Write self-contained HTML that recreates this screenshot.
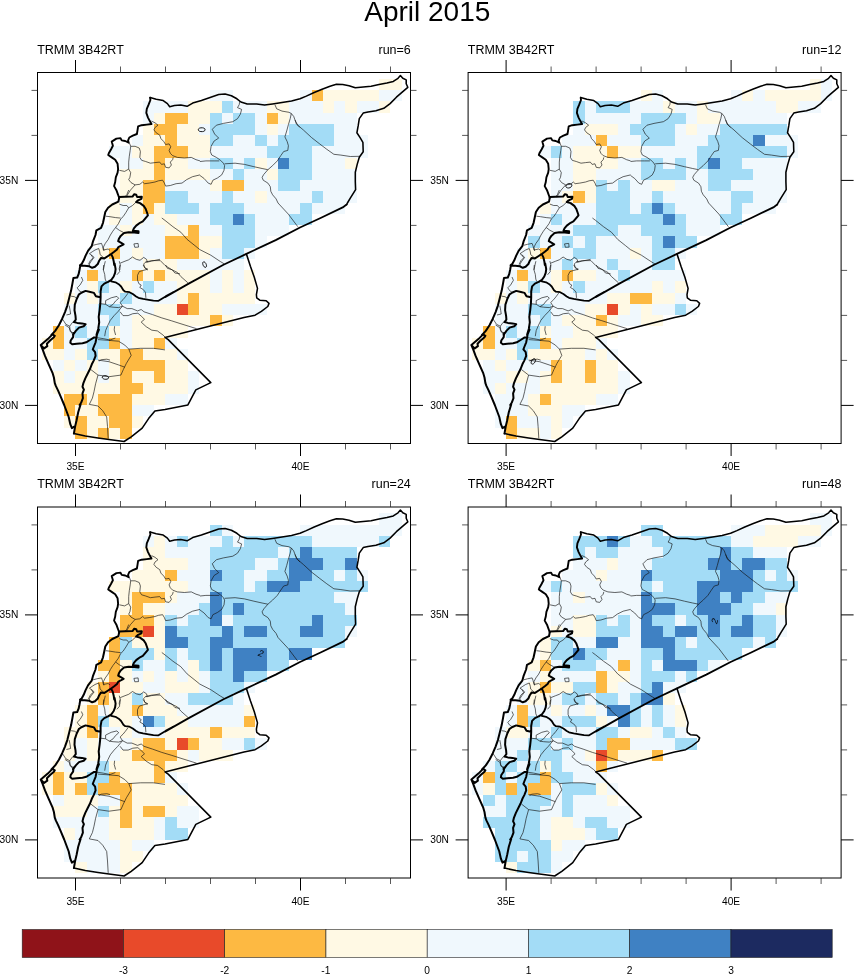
<!DOCTYPE html>
<html><head><meta charset="utf-8"><title>April 2015</title>
<style>html,body{margin:0;padding:0;background:#fff}svg{display:block}text{font-family:"Liberation Sans", sans-serif;fill:#000}</style></head><body>
<svg width="854" height="975" viewBox="0 0 854 975">
<rect width="854" height="975" fill="#fff"/>
<text x="427.3" y="20.6" font-size="28" text-anchor="middle">April 2015</text>
<defs><g id="map"><path d="M151.5,121.1 L155.0,122.8 L158.0,125.2 L155.0,127.5 L153.9,129.9 L156.2,132.8 L159.7,135.1 L160.9,138.6 L163.8,141.6 L165.6,144.5 L169.1,143.9 L170.8,146.8 L169.1,150.4 L170.3,153.3 L172.6,155.6 L177.3,157.4 L184.3,158.0 L191.3,157.4 L196.0,159.7 L200.0,160.9 M129.3,142.7 L130.7,146.3 L135.1,146.3 L139.2,148.0 L140.4,151.5 L139.8,157.4 L141.6,160.3 L145.7,161.5 L150.4,163.2 L155.0,162.6 L159.7,162.1 L161.5,164.4 L164.4,163.8 L165.6,167.3 L169.1,167.9 L171.4,165.0 L170.3,162.1 L172.6,159.7 L173.2,157.4 M130.7,146.3 L130.2,150.4 L129.3,156.2 L128.7,162.1 L128.7,169.1 L124.6,171.4 L119.3,170.3 M128.7,169.1 L130.7,172.6 L129.9,177.3 L128.7,179.6 L131.0,182.6 L135.1,184.9 L139.8,184.3 L142.7,182.0 L144.5,183.7 L149.2,183.1 L155.0,182.0 L158.5,180.8 L162.6,180.2 L164.4,183.1 L165.6,186.1 L170.3,185.5 L176.1,183.7 L182.0,183.1 L186.7,179.6 L192.5,176.7 L200.0,174.9 M135.1,184.9 L130.4,190.2 L127.5,194.8 L126.3,197.2 M239.8,101.2 L239.2,104.7 L237.5,107.6 L241.6,109.4 L240.4,114.1 L237.5,118.7 L232.8,121.7 L223.4,123.4 L216.4,125.2 L212.3,129.3 L214.6,134.0 L218.7,138.1 L214.1,141.0 L211.1,146.3 L210.3,151.5 L211.7,155.0 L216.4,157.4 L220.5,160.3 L223.4,163.2 L224.6,165.6 L224.0,170.3 L221.7,174.9 L217.6,177.9 L212.9,180.2 L211.1,184.3 L208.2,183.1 L204.1,178.5 L200.0,175.5 M200.0,161.5 L205.9,160.9 L214.1,160.9 L219.3,160.9 M224.6,163.8 L235.1,163.2 L244.5,164.4 L253.9,166.7 L262.1,168.5 L267.9,169.7 M274.9,104.7 L276.7,108.8 L282.0,111.1 L289.0,112.3 L291.3,113.5 L290.2,118.7 L288.4,124.6 L286.7,131.0 L284.9,136.9 L287.2,141.6 L288.4,145.7 L287.8,150.4 L283.7,151.5 L280.8,155.6 L277.3,160.9 L272.6,165.6 L267.9,169.7 L263.8,174.4 L262.1,177.3 L263.2,180.2 L267.9,183.1 L270.3,186.7 L270.8,191.3 L272.6,194.8 L276.1,198.9 M291.3,113.5 L293.7,116.4 L295.4,121.1 L297.8,125.2 L300.0,127.5 M295.2,120.0 L296.4,124.1 L303.4,130.0 L311.6,137.6 L319.8,144.0 L326.8,149.3 L333.9,154.3 L340.9,155.1 L350.3,156.5 L359.6,156.3 M161.8,218.0 L165.0,220.4 L172.9,226.7 L180.8,232.2 L187.1,239.4 L195.0,245.7 L199.8,249.6 L210.8,255.2 L220.3,261.5 L224.3,263.9 M165.0,265.4 L171.3,269.4 L177.6,272.6 L180.8,276.5 L187.9,282.8 M276.1,198.9 L278.0,203.0 L288.3,214.1 L297.8,226.7 M128.7,190.0 L126.8,194.7 L125.0,196.7 M119.3,204.1 L123.1,205.5 L126.8,205.5 L128.7,207.8 L125.9,212.5 L123.1,216.7 L120.7,219.0 L118.4,223.7 L115.6,227.5 L112.8,231.2 L110.4,235.0 L108.1,239.6 L105.3,243.4 L103.4,247.1 L103.9,250.9 M105.8,216.2 L110.0,216.7 L115.6,217.6 L120.7,218.1 M128.7,207.8 L132.5,205.5 L136.2,202.0 M115.6,227.5 L119.3,230.3 L123.1,232.2 M93.1,245.3 L96.9,244.3 L101.5,243.4 L102.5,246.2 L103.4,250.0 L108.1,249.0 L110.0,250.4 M89.4,253.7 L92.2,251.8 L95.0,250.0 L98.7,248.5 L99.7,251.8 L100.1,254.6 L104.4,258.4 M89.4,253.7 L92.2,255.6 L94.1,257.4 L91.2,261.2 L89.4,264.0 L89.4,266.3 M120.3,263.1 L125.0,261.2 L128.7,259.8 L132.5,257.0 L136.2,259.3 L140.0,260.3 L143.7,257.4 L146.5,259.3 L147.4,262.1 L151.2,261.2 L160.0,259.3 M147.4,262.1 L145.6,262.1 L143.7,264.0 L144.6,267.8 L147.4,270.0 M133.9,243.9 L138.1,243.4 L138.5,247.1 L134.8,247.3 L133.9,243.9 M105.3,261.2 L104.4,264.9 L103.4,270.0 M119.3,261.2 L120.3,264.9 L119.8,270.0 M91.2,255.0 L93.1,257.8 L90.3,260.6 L88.4,264.4 M81.4,277.0 L82.8,280.3 L80.0,285.0 L77.2,287.8 L79.0,290.6 L81.9,292.5 M71.1,296.2 L74.4,296.7 L76.7,298.1 M69.2,305.6 L70.1,310.3 L70.6,314.0 L66.4,315.0 M62.2,318.7 L65.9,324.3 L69.7,326.2 L70.1,329.9 L73.0,335.0 M69.7,326.2 L72.5,322.4 L74.4,322.0 M114.6,326.2 L114.2,329.9 L115.6,335.0 M96.5,337.6 L103.1,338.6 L110.0,340.0 M98.9,361.1 L101.2,359.7 L106.8,359.2 L110.0,360.1 M65.1,325.0 L69.3,327.8 L70.3,331.6 L73.6,333.0 M115.4,338.0 L109.0,340.4 L118.5,341.2 L124.8,345.1 L128.8,349.1 L131.2,355.4 L126.4,363.3 L123.3,369.6 L120.9,375.1 L109.0,376.7 L98.0,375.1 L90.9,369.6 M98.0,339.6 L109.0,340.4 M128.8,349.1 L140.7,348.3 L153.3,348.3 L165.0,349.9 M98.0,360.1 L109.0,361.7 L118.5,364.9 L124.8,367.2 M98.0,375.1 L95.6,383.8 L94.0,391.7 L92.4,398.1 L89.3,404.4 L98.0,406.0 L102.7,410.7 L106.7,417.0 L107.5,426.5 L108.2,438.4 M142.6,270.6 L139.3,271.6 L137.5,275.3 L137.5,280.0 L138.9,283.7 L141.2,285.1 L139.8,287.5 L143.1,289.4 L145.4,292.2 L145.9,297.8 M143.1,265.0 L145.0,267.8 L147.8,269.2 L142.6,270.6 M165.6,265.0 L167.4,268.3 L172.1,269.7 L174.9,273.0 L180.0,273.9 M122.5,306.2 L127.2,308.6 L131.9,308.6 L137.5,310.9 L141.2,309.5 L144.0,311.8 L152.5,314.6 L161.8,317.9 L171.2,320.7 L180.0,323.5 L196.6,328.7 M120.1,311.8 L123.0,315.6 L128.1,315.6 L132.8,313.7 L137.9,313.2 L141.2,316.1 L144.5,319.3 L141.2,322.1 L146.2,326.7 L151.8,330.2 L157.4,330.9 L163.1,335.1 L165.9,337.9 M145.5,262.0 L151.8,260.6 L160.3,260.6 L165.0,265.4 M128.1,293.1 L125.3,296.9 L123.0,299.7 L120.1,302.5 L122.5,306.2 L120.1,309.0 L117.8,311.8 L114.1,315.6 L110.3,320.3 L108.0,325.0 L105.6,330.6 L104.7,336.2 M105.6,300.6 L111.2,297.8 L116.9,296.4 L118.7,298.3 L115.5,301.1 L113.1,304.3 L109.4,306.7 L105.6,304.3 L105.6,300.6 M100.6,303.7 L105.6,304.3 M109.4,306.7 L113.1,307.2 L118.7,307.6 L122.5,306.2 M103.7,265.0 L103.3,269.7 L104.7,274.4 L105.2,279.1 L106.1,281.4 M120.1,265.0 L119.2,268.7 L119.7,271.6 L116.9,274.8" fill="none" stroke="#111" stroke-width="0.65" stroke-linejoin="round"/>
<path d="M119.1,197.8 L118.1,194.8 L116.4,190.2 L114.1,186.1 L115.2,182.0 L115.8,177.3 L117.6,172.6 L118.1,169.1 L117.6,163.8 L115.2,159.7 L111.7,157.4 L108.2,155.0 L108.8,153.3 L111.1,149.2 L112.9,145.7 L111.7,141.6 L116.4,138.6 L120.5,138.1 L121.7,140.4 L125.2,141.0 L128.7,142.7 L128.1,140.4 L129.3,137.5 L132.8,135.7 L136.9,134.0 L137.5,130.4 L138.1,126.3 L141.6,125.2 L146.8,124.6 L151.5,124.0 L149.8,121.1 L148.0,117.6 L146.3,112.9 L146.8,108.8 L148.6,104.7 L150.4,100.0 L150.1,97.6" fill="none" stroke="#000" stroke-width="1.9" stroke-linejoin="round" stroke-linecap="round"/>
<path d="M150.1,97.6 L156.2,99.3 L163.2,100.6 L167.4,103.6 L169.7,106.7 L174.5,105.6 L180.8,105.1 L187.1,106.3 L192.7,103.1 L201.4,100.4 L210.8,97.2 L218.7,94.6 L225.1,94.1 L231.4,95.7 L236.9,98.8 L240.9,102.0 L247.2,104.0 L256.7,104.0 L264.6,105.1 L272.5,104.0 L282.0,102.5 L291.5,100.9 L300.0,98.8 L306.3,96.1 L314.2,92.5 L322.1,89.3 L330.0,86.2 L336.4,84.3 L342.7,84.6 L349.0,85.7 L355.3,87.8 L363.2,87.0 L371.1,86.2 L379.0,84.6 L386.9,83.0 L393.3,81.4 L398.0,78.3 L400.4,75.6 L402.8,78.3 L406.2,79.9 L406.2,83.8 L407.8,87.3 L402.8,91.7 L396.4,97.2 L390.1,103.6 L383.8,108.3 L375.9,110.7 L368.0,111.9 L363.2,113.1 L359.3,118.6 L358.2,125.7 L356.9,132.8 L360.1,137.6 L362.9,142.3 L363.2,151.8 L359.3,157.3 L357.2,164.4 L355.3,172.3 L355.3,181.8 L355.6,189.7 L350.6,197.6 L347.4,203.0 L346.6,204.6 M246.4,253.9 L250.4,266.2 L254.3,277.3 L257.5,288.4 L256.4,294.7 L256.7,297.8 L259.8,300.2 L266.2,300.7 L269.0,303.4 L267.8,306.5 L261.4,311.3 L255.1,315.2 L244.0,317.6 L228.2,321.6 L212.4,325.5 L196.6,329.5 L180.8,333.4 L165.0,337.4 L168.2,339.6 L210.8,382.6 L195.8,389.9 L187.9,404.9 L165.0,409.5 L154.9,411.0 L148.6,418.6 L142.2,428.1 L131.2,436.8 L124.1,441.5 L109.0,439.5 L98.0,437.9 L85.3,436.0 L73.9,433.6" fill="none" stroke="#000" stroke-width="1.55" stroke-linejoin="round" stroke-linecap="round"/>
<path d="M346.6,204.6 L342.7,207.4 L320.6,218.0 L300.0,227.5 L275.7,240.1 L246.4,253.9 L223.5,264.7 L188.7,283.6 L165.0,297.1 L173.1,292.2 L165.6,296.4 L158.1,300.9 L153.4,300.6 L148.7,299.8 L143.1,298.9 L138.4,297.8 L136.1,296.4 L132.8,294.0 L129.5,292.2 L125.3,291.7 L123.4,290.3 L121.1,286.5 L118.7,284.2 L115.5,282.3 L111.2,281.4" fill="none" stroke="#000" stroke-width="1.8" stroke-linejoin="round" stroke-linecap="round"/>
<path d="M119.3,197.0 L118.4,201.7 L112.3,204.5 L108.1,207.8 L105.3,212.0 L104.2,217.2 L103.0,222.8 L101.1,227.9 L96.4,230.3 L95.5,235.0 L93.1,241.1 L91.7,246.2 L88.0,250.9 L85.6,255.6 L83.7,260.3 L81.4,264.5 L80.0,265.4 M119.3,197.0 L125.0,196.7 L132.5,196.6 L134.3,194.2 L136.2,194.7 L137.1,197.0 L141.8,196.7 L141.4,198.9 L138.1,200.3 L136.2,202.0 L140.0,203.1 L143.7,205.9 L145.6,208.7 L147.0,212.5 L147.9,215.3 L145.6,218.1 L142.8,221.4 L140.0,222.8 L136.2,225.6 L133.9,228.4 L132.9,230.7 L138.5,231.2 L138.5,232.9 L134.3,232.6 L128.7,232.2 L124.0,233.1 L120.7,235.9 L118.9,238.7 L118.2,241.1 L121.2,242.9 L123.6,244.3 L121.2,245.7 L118.4,247.1 L117.0,249.5 L114.2,251.8 L110.9,254.2 L108.1,256.0 L104.4,258.4 L101.1,257.9 L99.2,260.7 L97.8,264.0 L95.0,266.8 L92.2,267.8 L89.4,266.3 L84.7,265.7 L80.0,265.4 M111.4,254.6 L112.8,257.4 L113.7,261.2 L114.2,264.9 L114.6,263.4 L115.6,269.1 L115.1,272.8 L113.7,276.5 L111.4,279.8 L108.5,281.7 M80.4,264.8 L79.5,270.0 L78.6,274.2 L77.2,277.5 L73.4,278.0 L72.5,283.1 L71.1,290.6 L69.2,298.1 L67.3,305.6 L65.0,312.1 L62.2,318.7 L58.9,325.3 L55.2,330.9 L51.4,335.0 L52.5,334.4 L47.8,339.1 L40.8,345.1 L42.6,349.4 L45.0,355.9 L48.7,364.3 L52.5,372.8 L53.9,377.5 L54.8,383.1 L55.8,385.9 L58.1,390.6 L60.9,397.1 L64.2,405.0 L68.7,417.0 L70.3,424.2 L71.9,428.1 L74.3,426.5 M52.5,334.4 L54.8,335.8 L53.9,337.2 L50.1,340.5 L46.9,343.7 L47.3,346.1 L44.1,348.4 L40.8,345.1 M108.5,281.7 L104.3,283.6 L101.5,286.4 L100.6,291.5 L100.6,297.2 L100.3,303.7 L99.6,310.3 L98.7,316.8 L99.2,322.4 L98.2,329.0 L96.4,335.0 L98.9,329.7 L97.0,334.4 L96.5,337.6 L95.6,342.3 L93.7,347.0 L92.8,349.4 L95.1,352.2 L95.6,355.9 L93.7,360.6 L91.8,364.3 L90.0,369.0 L88.1,372.8 L85.3,378.4 L83.4,383.1 L82.5,386.8 L83.9,389.6 L82.5,393.4 L82.9,398.1 L81.1,402.8 L79.6,405.0 L80.6,404.4 L78.2,412.3 L76.6,420.2 L75.1,426.5 L73.9,433.6 M100.3,297.2 L95.9,296.2 L94.0,292.9 L90.3,292.0 L85.6,290.9 L81.9,292.5 L79.0,294.3 L76.7,299.0 L74.8,304.6 L74.5,310.3 L75.5,315.9 L75.8,319.6 L73.9,322.0 L77.2,322.9 L81.9,323.4 L85.6,324.3 L83.7,326.2 L79.0,327.6 L75.8,330.9 L73.0,335.0 L73.6,333.0 L73.1,337.2 L70.7,340.5 L70.3,342.8 L72.2,344.2 L76.8,343.7 L82.5,343.3 L86.2,342.3 L90.0,340.0 L93.7,337.6 L96.5,337.2" fill="none" stroke="#000" stroke-width="2.0" stroke-linejoin="round" stroke-linecap="round"/></g></defs>
<g transform="translate(0,0)">
<g shape-rendering="crispEdges"><rect x="379.00" y="78.90" width="22.50" height="11.25" fill="#fff9e4"/>
<rect x="210.25" y="90.15" width="22.50" height="11.25" fill="#f0f8fd"/>
<rect x="300.25" y="90.15" width="11.25" height="11.25" fill="#f0f8fd"/>
<rect x="311.50" y="90.15" width="11.25" height="11.25" fill="#fdb942"/>
<rect x="322.75" y="90.15" width="56.25" height="11.25" fill="#fff9e4"/>
<rect x="379.00" y="90.15" width="22.50" height="11.25" fill="#f0f8fd"/>
<rect x="142.75" y="101.40" width="45.00" height="11.25" fill="#f0f8fd"/>
<rect x="187.75" y="101.40" width="33.75" height="11.25" fill="#fff9e4"/>
<rect x="221.50" y="101.40" width="11.25" height="11.25" fill="#a3dcf6"/>
<rect x="232.75" y="101.40" width="33.75" height="11.25" fill="#f0f8fd"/>
<rect x="266.50" y="101.40" width="22.50" height="11.25" fill="#fff9e4"/>
<rect x="289.00" y="101.40" width="33.75" height="11.25" fill="#f0f8fd"/>
<rect x="322.75" y="101.40" width="11.25" height="11.25" fill="#fff9e4"/>
<rect x="334.00" y="101.40" width="11.25" height="11.25" fill="#f0f8fd"/>
<rect x="345.25" y="101.40" width="11.25" height="11.25" fill="#fff9e4"/>
<rect x="356.50" y="101.40" width="22.50" height="11.25" fill="#f0f8fd"/>
<rect x="379.00" y="101.40" width="11.25" height="11.25" fill="#fff9e4"/>
<rect x="142.75" y="112.65" width="11.25" height="11.25" fill="#f0f8fd"/>
<rect x="154.00" y="112.65" width="11.25" height="11.25" fill="#fff9e4"/>
<rect x="165.25" y="112.65" width="22.50" height="11.25" fill="#fdb942"/>
<rect x="187.75" y="112.65" width="22.50" height="11.25" fill="#fff9e4"/>
<rect x="210.25" y="112.65" width="11.25" height="11.25" fill="#a3dcf6"/>
<rect x="221.50" y="112.65" width="11.25" height="11.25" fill="#f0f8fd"/>
<rect x="232.75" y="112.65" width="22.50" height="11.25" fill="#a3dcf6"/>
<rect x="255.25" y="112.65" width="11.25" height="11.25" fill="#f0f8fd"/>
<rect x="266.50" y="112.65" width="11.25" height="11.25" fill="#fdb942"/>
<rect x="277.75" y="112.65" width="11.25" height="11.25" fill="#fff9e4"/>
<rect x="289.00" y="112.65" width="67.50" height="11.25" fill="#f0f8fd"/>
<rect x="142.75" y="123.90" width="11.25" height="11.25" fill="#fff9e4"/>
<rect x="154.00" y="123.90" width="22.50" height="11.25" fill="#fdb942"/>
<rect x="176.50" y="123.90" width="22.50" height="11.25" fill="#fff9e4"/>
<rect x="199.00" y="123.90" width="11.25" height="11.25" fill="#f0f8fd"/>
<rect x="210.25" y="123.90" width="45.00" height="11.25" fill="#a3dcf6"/>
<rect x="255.25" y="123.90" width="11.25" height="11.25" fill="#f0f8fd"/>
<rect x="266.50" y="123.90" width="11.25" height="11.25" fill="#fff9e4"/>
<rect x="277.75" y="123.90" width="11.25" height="11.25" fill="#f0f8fd"/>
<rect x="289.00" y="123.90" width="45.00" height="11.25" fill="#a3dcf6"/>
<rect x="334.00" y="123.90" width="22.50" height="11.25" fill="#f0f8fd"/>
<rect x="131.50" y="135.15" width="11.25" height="11.25" fill="#f0f8fd"/>
<rect x="142.75" y="135.15" width="22.50" height="11.25" fill="#fff9e4"/>
<rect x="165.25" y="135.15" width="11.25" height="11.25" fill="#fdb942"/>
<rect x="176.50" y="135.15" width="33.75" height="11.25" fill="#fff9e4"/>
<rect x="210.25" y="135.15" width="22.50" height="11.25" fill="#a3dcf6"/>
<rect x="232.75" y="135.15" width="22.50" height="11.25" fill="#f0f8fd"/>
<rect x="255.25" y="135.15" width="11.25" height="11.25" fill="#a3dcf6"/>
<rect x="266.50" y="135.15" width="11.25" height="11.25" fill="#f0f8fd"/>
<rect x="277.75" y="135.15" width="56.25" height="11.25" fill="#a3dcf6"/>
<rect x="334.00" y="135.15" width="33.75" height="11.25" fill="#f0f8fd"/>
<rect x="109.00" y="146.40" width="22.50" height="11.25" fill="#f0f8fd"/>
<rect x="131.50" y="146.40" width="22.50" height="11.25" fill="#fff9e4"/>
<rect x="154.00" y="146.40" width="33.75" height="11.25" fill="#fdb942"/>
<rect x="187.75" y="146.40" width="22.50" height="11.25" fill="#fff9e4"/>
<rect x="210.25" y="146.40" width="56.25" height="11.25" fill="#f0f8fd"/>
<rect x="266.50" y="146.40" width="45.00" height="11.25" fill="#a3dcf6"/>
<rect x="311.50" y="146.40" width="56.25" height="11.25" fill="#f0f8fd"/>
<rect x="120.25" y="157.65" width="22.50" height="11.25" fill="#f0f8fd"/>
<rect x="142.75" y="157.65" width="11.25" height="11.25" fill="#fff9e4"/>
<rect x="154.00" y="157.65" width="11.25" height="11.25" fill="#fdb942"/>
<rect x="165.25" y="157.65" width="22.50" height="11.25" fill="#fff9e4"/>
<rect x="187.75" y="157.65" width="22.50" height="11.25" fill="#f0f8fd"/>
<rect x="210.25" y="157.65" width="22.50" height="11.25" fill="#a3dcf6"/>
<rect x="232.75" y="157.65" width="11.25" height="11.25" fill="#f0f8fd"/>
<rect x="244.00" y="157.65" width="11.25" height="11.25" fill="#a3dcf6"/>
<rect x="255.25" y="157.65" width="11.25" height="11.25" fill="#fff9e4"/>
<rect x="266.50" y="157.65" width="11.25" height="11.25" fill="#f0f8fd"/>
<rect x="277.75" y="157.65" width="11.25" height="11.25" fill="#3f81c3"/>
<rect x="289.00" y="157.65" width="22.50" height="11.25" fill="#a3dcf6"/>
<rect x="311.50" y="157.65" width="33.75" height="11.25" fill="#f0f8fd"/>
<rect x="345.25" y="157.65" width="11.25" height="11.25" fill="#fff9e4"/>
<rect x="120.25" y="168.90" width="33.75" height="11.25" fill="#fff9e4"/>
<rect x="154.00" y="168.90" width="11.25" height="11.25" fill="#fdb942"/>
<rect x="165.25" y="168.90" width="45.00" height="11.25" fill="#fff9e4"/>
<rect x="210.25" y="168.90" width="22.50" height="11.25" fill="#f0f8fd"/>
<rect x="232.75" y="168.90" width="11.25" height="11.25" fill="#a3dcf6"/>
<rect x="244.00" y="168.90" width="22.50" height="11.25" fill="#f0f8fd"/>
<rect x="266.50" y="168.90" width="11.25" height="11.25" fill="#fff9e4"/>
<rect x="277.75" y="168.90" width="33.75" height="11.25" fill="#a3dcf6"/>
<rect x="311.50" y="168.90" width="45.00" height="11.25" fill="#f0f8fd"/>
<rect x="120.25" y="180.15" width="22.50" height="11.25" fill="#fff9e4"/>
<rect x="142.75" y="180.15" width="22.50" height="11.25" fill="#fdb942"/>
<rect x="165.25" y="180.15" width="45.00" height="11.25" fill="#f0f8fd"/>
<rect x="210.25" y="180.15" width="11.25" height="11.25" fill="#fff9e4"/>
<rect x="221.50" y="180.15" width="22.50" height="11.25" fill="#fdb942"/>
<rect x="244.00" y="180.15" width="33.75" height="11.25" fill="#f0f8fd"/>
<rect x="277.75" y="180.15" width="22.50" height="11.25" fill="#a3dcf6"/>
<rect x="300.25" y="180.15" width="56.25" height="11.25" fill="#f0f8fd"/>
<rect x="120.25" y="191.40" width="22.50" height="11.25" fill="#fff9e4"/>
<rect x="142.75" y="191.40" width="22.50" height="11.25" fill="#fdb942"/>
<rect x="165.25" y="191.40" width="22.50" height="11.25" fill="#a3dcf6"/>
<rect x="187.75" y="191.40" width="33.75" height="11.25" fill="#f0f8fd"/>
<rect x="221.50" y="191.40" width="11.25" height="11.25" fill="#a3dcf6"/>
<rect x="232.75" y="191.40" width="22.50" height="11.25" fill="#f0f8fd"/>
<rect x="255.25" y="191.40" width="11.25" height="11.25" fill="#fff9e4"/>
<rect x="266.50" y="191.40" width="45.00" height="11.25" fill="#f0f8fd"/>
<rect x="311.50" y="191.40" width="11.25" height="11.25" fill="#a3dcf6"/>
<rect x="322.75" y="191.40" width="33.75" height="11.25" fill="#f0f8fd"/>
<rect x="109.00" y="202.65" width="11.25" height="11.25" fill="#fff9e4"/>
<rect x="120.25" y="202.65" width="11.25" height="11.25" fill="#f0f8fd"/>
<rect x="131.50" y="202.65" width="11.25" height="11.25" fill="#fff9e4"/>
<rect x="142.75" y="202.65" width="11.25" height="11.25" fill="#fdb942"/>
<rect x="154.00" y="202.65" width="11.25" height="11.25" fill="#fff9e4"/>
<rect x="165.25" y="202.65" width="33.75" height="11.25" fill="#a3dcf6"/>
<rect x="199.00" y="202.65" width="11.25" height="11.25" fill="#f0f8fd"/>
<rect x="210.25" y="202.65" width="33.75" height="11.25" fill="#a3dcf6"/>
<rect x="244.00" y="202.65" width="56.25" height="11.25" fill="#f0f8fd"/>
<rect x="300.25" y="202.65" width="11.25" height="11.25" fill="#a3dcf6"/>
<rect x="311.50" y="202.65" width="33.75" height="11.25" fill="#f0f8fd"/>
<rect x="109.00" y="213.90" width="11.25" height="11.25" fill="#fff9e4"/>
<rect x="120.25" y="213.90" width="11.25" height="11.25" fill="#f0f8fd"/>
<rect x="131.50" y="213.90" width="11.25" height="11.25" fill="#fff9e4"/>
<rect x="142.75" y="213.90" width="11.25" height="11.25" fill="#f0f8fd"/>
<rect x="154.00" y="213.90" width="22.50" height="11.25" fill="#fff9e4"/>
<rect x="176.50" y="213.90" width="33.75" height="11.25" fill="#f0f8fd"/>
<rect x="210.25" y="213.90" width="22.50" height="11.25" fill="#a3dcf6"/>
<rect x="232.75" y="213.90" width="11.25" height="11.25" fill="#3f81c3"/>
<rect x="244.00" y="213.90" width="11.25" height="11.25" fill="#a3dcf6"/>
<rect x="255.25" y="213.90" width="33.75" height="11.25" fill="#f0f8fd"/>
<rect x="289.00" y="213.90" width="22.50" height="11.25" fill="#a3dcf6"/>
<rect x="97.75" y="225.15" width="22.50" height="11.25" fill="#f0f8fd"/>
<rect x="120.25" y="225.15" width="11.25" height="11.25" fill="#fff9e4"/>
<rect x="131.50" y="225.15" width="33.75" height="11.25" fill="#f0f8fd"/>
<rect x="165.25" y="225.15" width="22.50" height="11.25" fill="#fff9e4"/>
<rect x="187.75" y="225.15" width="11.25" height="11.25" fill="#fdb942"/>
<rect x="199.00" y="225.15" width="22.50" height="11.25" fill="#f0f8fd"/>
<rect x="221.50" y="225.15" width="33.75" height="11.25" fill="#a3dcf6"/>
<rect x="255.25" y="225.15" width="33.75" height="11.25" fill="#f0f8fd"/>
<rect x="97.75" y="236.40" width="67.50" height="11.25" fill="#f0f8fd"/>
<rect x="165.25" y="236.40" width="33.75" height="11.25" fill="#fdb942"/>
<rect x="199.00" y="236.40" width="22.50" height="11.25" fill="#fff9e4"/>
<rect x="221.50" y="236.40" width="33.75" height="11.25" fill="#a3dcf6"/>
<rect x="255.25" y="236.40" width="11.25" height="11.25" fill="#f0f8fd"/>
<rect x="86.50" y="247.65" width="11.25" height="11.25" fill="#f0f8fd"/>
<rect x="97.75" y="247.65" width="11.25" height="11.25" fill="#fff9e4"/>
<rect x="109.00" y="247.65" width="11.25" height="11.25" fill="#fdb942"/>
<rect x="120.25" y="247.65" width="11.25" height="11.25" fill="#f0f8fd"/>
<rect x="131.50" y="247.65" width="11.25" height="11.25" fill="#fff9e4"/>
<rect x="142.75" y="247.65" width="22.50" height="11.25" fill="#f0f8fd"/>
<rect x="165.25" y="247.65" width="33.75" height="11.25" fill="#fdb942"/>
<rect x="199.00" y="247.65" width="11.25" height="11.25" fill="#fff9e4"/>
<rect x="210.25" y="247.65" width="11.25" height="11.25" fill="#f0f8fd"/>
<rect x="221.50" y="247.65" width="22.50" height="11.25" fill="#a3dcf6"/>
<rect x="244.00" y="247.65" width="11.25" height="11.25" fill="#f0f8fd"/>
<rect x="86.50" y="258.90" width="56.25" height="11.25" fill="#f0f8fd"/>
<rect x="142.75" y="258.90" width="33.75" height="11.25" fill="#fff9e4"/>
<rect x="176.50" y="258.90" width="67.50" height="11.25" fill="#f0f8fd"/>
<rect x="75.25" y="270.15" width="11.25" height="11.25" fill="#f0f8fd"/>
<rect x="86.50" y="270.15" width="11.25" height="11.25" fill="#fdb942"/>
<rect x="97.75" y="270.15" width="33.75" height="11.25" fill="#f0f8fd"/>
<rect x="131.50" y="270.15" width="11.25" height="11.25" fill="#fdb942"/>
<rect x="142.75" y="270.15" width="11.25" height="11.25" fill="#fff9e4"/>
<rect x="154.00" y="270.15" width="11.25" height="11.25" fill="#fdb942"/>
<rect x="165.25" y="270.15" width="45.00" height="11.25" fill="#fff9e4"/>
<rect x="210.25" y="270.15" width="11.25" height="11.25" fill="#f0f8fd"/>
<rect x="221.50" y="270.15" width="11.25" height="11.25" fill="#fff9e4"/>
<rect x="232.75" y="270.15" width="11.25" height="11.25" fill="#f0f8fd"/>
<rect x="244.00" y="270.15" width="11.25" height="11.25" fill="#fff9e4"/>
<rect x="75.25" y="281.40" width="11.25" height="11.25" fill="#f0f8fd"/>
<rect x="86.50" y="281.40" width="11.25" height="11.25" fill="#fff9e4"/>
<rect x="97.75" y="281.40" width="11.25" height="11.25" fill="#a3dcf6"/>
<rect x="109.00" y="281.40" width="11.25" height="11.25" fill="#f0f8fd"/>
<rect x="120.25" y="281.40" width="11.25" height="11.25" fill="#fff9e4"/>
<rect x="131.50" y="281.40" width="11.25" height="11.25" fill="#f0f8fd"/>
<rect x="142.75" y="281.40" width="11.25" height="11.25" fill="#a3dcf6"/>
<rect x="154.00" y="281.40" width="22.50" height="11.25" fill="#f0f8fd"/>
<rect x="176.50" y="281.40" width="33.75" height="11.25" fill="#fff9e4"/>
<rect x="210.25" y="281.40" width="11.25" height="11.25" fill="#f0f8fd"/>
<rect x="221.50" y="281.40" width="11.25" height="11.25" fill="#fff9e4"/>
<rect x="232.75" y="281.40" width="11.25" height="11.25" fill="#f0f8fd"/>
<rect x="244.00" y="281.40" width="11.25" height="11.25" fill="#fff9e4"/>
<rect x="64.00" y="292.65" width="11.25" height="11.25" fill="#fff9e4"/>
<rect x="75.25" y="292.65" width="11.25" height="11.25" fill="#f0f8fd"/>
<rect x="86.50" y="292.65" width="11.25" height="11.25" fill="#fff9e4"/>
<rect x="97.75" y="292.65" width="22.50" height="11.25" fill="#f0f8fd"/>
<rect x="120.25" y="292.65" width="11.25" height="11.25" fill="#a3dcf6"/>
<rect x="131.50" y="292.65" width="45.00" height="11.25" fill="#f0f8fd"/>
<rect x="176.50" y="292.65" width="11.25" height="11.25" fill="#fff9e4"/>
<rect x="187.75" y="292.65" width="11.25" height="11.25" fill="#fdb942"/>
<rect x="199.00" y="292.65" width="56.25" height="11.25" fill="#fff9e4"/>
<rect x="64.00" y="303.90" width="33.75" height="11.25" fill="#f0f8fd"/>
<rect x="97.75" y="303.90" width="22.50" height="11.25" fill="#a3dcf6"/>
<rect x="120.25" y="303.90" width="33.75" height="11.25" fill="#f0f8fd"/>
<rect x="154.00" y="303.90" width="22.50" height="11.25" fill="#fff9e4"/>
<rect x="176.50" y="303.90" width="11.25" height="11.25" fill="#e84a2a"/>
<rect x="187.75" y="303.90" width="11.25" height="11.25" fill="#fdb942"/>
<rect x="199.00" y="303.90" width="22.50" height="11.25" fill="#fff9e4"/>
<rect x="221.50" y="303.90" width="45.00" height="11.25" fill="#f0f8fd"/>
<rect x="64.00" y="315.15" width="45.00" height="11.25" fill="#f0f8fd"/>
<rect x="109.00" y="315.15" width="11.25" height="11.25" fill="#a3dcf6"/>
<rect x="120.25" y="315.15" width="11.25" height="11.25" fill="#f0f8fd"/>
<rect x="131.50" y="315.15" width="78.75" height="11.25" fill="#fff9e4"/>
<rect x="210.25" y="315.15" width="11.25" height="11.25" fill="#fdb942"/>
<rect x="221.50" y="315.15" width="11.25" height="11.25" fill="#fff9e4"/>
<rect x="52.75" y="326.40" width="11.25" height="11.25" fill="#fdb942"/>
<rect x="64.00" y="326.40" width="11.25" height="11.25" fill="#f0f8fd"/>
<rect x="75.25" y="326.40" width="11.25" height="11.25" fill="#a3dcf6"/>
<rect x="86.50" y="326.40" width="11.25" height="11.25" fill="#f0f8fd"/>
<rect x="97.75" y="326.40" width="11.25" height="11.25" fill="#a3dcf6"/>
<rect x="109.00" y="326.40" width="11.25" height="11.25" fill="#fff9e4"/>
<rect x="120.25" y="326.40" width="11.25" height="11.25" fill="#f0f8fd"/>
<rect x="131.50" y="326.40" width="56.25" height="11.25" fill="#fff9e4"/>
<rect x="41.50" y="337.65" width="11.25" height="11.25" fill="#fff9e4"/>
<rect x="52.75" y="337.65" width="11.25" height="11.25" fill="#fdb942"/>
<rect x="64.00" y="337.65" width="22.50" height="11.25" fill="#f0f8fd"/>
<rect x="86.50" y="337.65" width="22.50" height="11.25" fill="#a3dcf6"/>
<rect x="109.00" y="337.65" width="11.25" height="11.25" fill="#fdb942"/>
<rect x="120.25" y="337.65" width="11.25" height="11.25" fill="#f0f8fd"/>
<rect x="131.50" y="337.65" width="22.50" height="11.25" fill="#fff9e4"/>
<rect x="154.00" y="337.65" width="11.25" height="11.25" fill="#fdb942"/>
<rect x="165.25" y="337.65" width="11.25" height="11.25" fill="#f0f8fd"/>
<rect x="41.50" y="348.90" width="22.50" height="11.25" fill="#fff9e4"/>
<rect x="64.00" y="348.90" width="11.25" height="11.25" fill="#f0f8fd"/>
<rect x="75.25" y="348.90" width="11.25" height="11.25" fill="#fff9e4"/>
<rect x="86.50" y="348.90" width="11.25" height="11.25" fill="#a3dcf6"/>
<rect x="97.75" y="348.90" width="22.50" height="11.25" fill="#fff9e4"/>
<rect x="120.25" y="348.90" width="22.50" height="11.25" fill="#fdb942"/>
<rect x="142.75" y="348.90" width="33.75" height="11.25" fill="#fff9e4"/>
<rect x="176.50" y="348.90" width="11.25" height="11.25" fill="#f0f8fd"/>
<rect x="52.75" y="360.15" width="11.25" height="11.25" fill="#f0f8fd"/>
<rect x="64.00" y="360.15" width="11.25" height="11.25" fill="#fff9e4"/>
<rect x="75.25" y="360.15" width="11.25" height="11.25" fill="#f0f8fd"/>
<rect x="86.50" y="360.15" width="11.25" height="11.25" fill="#fff9e4"/>
<rect x="97.75" y="360.15" width="11.25" height="11.25" fill="#f0f8fd"/>
<rect x="109.00" y="360.15" width="11.25" height="11.25" fill="#fff9e4"/>
<rect x="120.25" y="360.15" width="45.00" height="11.25" fill="#fdb942"/>
<rect x="165.25" y="360.15" width="22.50" height="11.25" fill="#fff9e4"/>
<rect x="52.75" y="371.40" width="11.25" height="11.25" fill="#fff9e4"/>
<rect x="64.00" y="371.40" width="11.25" height="11.25" fill="#f0f8fd"/>
<rect x="75.25" y="371.40" width="22.50" height="11.25" fill="#fff9e4"/>
<rect x="97.75" y="371.40" width="11.25" height="11.25" fill="#f0f8fd"/>
<rect x="109.00" y="371.40" width="11.25" height="11.25" fill="#fff9e4"/>
<rect x="120.25" y="371.40" width="11.25" height="11.25" fill="#fdb942"/>
<rect x="131.50" y="371.40" width="22.50" height="11.25" fill="#fff9e4"/>
<rect x="154.00" y="371.40" width="11.25" height="11.25" fill="#fdb942"/>
<rect x="165.25" y="371.40" width="22.50" height="11.25" fill="#fff9e4"/>
<rect x="187.75" y="371.40" width="11.25" height="11.25" fill="#f0f8fd"/>
<rect x="52.75" y="382.65" width="67.50" height="11.25" fill="#fff9e4"/>
<rect x="120.25" y="382.65" width="22.50" height="11.25" fill="#fdb942"/>
<rect x="142.75" y="382.65" width="45.00" height="11.25" fill="#fff9e4"/>
<rect x="187.75" y="382.65" width="11.25" height="11.25" fill="#f0f8fd"/>
<rect x="64.00" y="393.90" width="22.50" height="11.25" fill="#fdb942"/>
<rect x="86.50" y="393.90" width="11.25" height="11.25" fill="#fff9e4"/>
<rect x="97.75" y="393.90" width="33.75" height="11.25" fill="#fdb942"/>
<rect x="131.50" y="393.90" width="33.75" height="11.25" fill="#fff9e4"/>
<rect x="165.25" y="393.90" width="22.50" height="11.25" fill="#f0f8fd"/>
<rect x="64.00" y="405.15" width="11.25" height="11.25" fill="#fdb942"/>
<rect x="75.25" y="405.15" width="22.50" height="11.25" fill="#fff9e4"/>
<rect x="97.75" y="405.15" width="33.75" height="11.25" fill="#fdb942"/>
<rect x="131.50" y="405.15" width="22.50" height="11.25" fill="#f0f8fd"/>
<rect x="64.00" y="416.40" width="11.25" height="11.25" fill="#fff9e4"/>
<rect x="75.25" y="416.40" width="11.25" height="11.25" fill="#fdb942"/>
<rect x="86.50" y="416.40" width="22.50" height="11.25" fill="#fff9e4"/>
<rect x="109.00" y="416.40" width="22.50" height="11.25" fill="#fdb942"/>
<rect x="131.50" y="416.40" width="11.25" height="11.25" fill="#fff9e4"/>
<rect x="75.25" y="427.65" width="11.25" height="11.25" fill="#fdb942"/>
<rect x="86.50" y="427.65" width="11.25" height="11.25" fill="#fff9e4"/>
<rect x="97.75" y="427.65" width="11.25" height="11.25" fill="#fdb942"/>
<rect x="109.00" y="427.65" width="11.25" height="11.25" fill="#fff9e4"/>
<rect x="120.25" y="427.65" width="11.25" height="11.25" fill="#fdb942"/></g>
<use href="#map"/>
<path d="M205.1,129.7 L204.8,130.6 L203.8,131.3 L202.5,131.6 L200.9,131.6 L199.6,131.3 L198.6,130.6 L198.3,129.7 L198.6,128.8 L199.6,128.1 L200.9,127.8 L202.5,127.8 L203.8,128.1 L204.8,128.8 L205.1,129.7 M108.6,377.8 L108.2,378.6 L107.2,379.1 L105.9,379.3 L104.5,379.2 L103.3,378.7 L102.5,378.0 L102.2,377.2 L102.6,376.4 L103.6,375.9 L104.9,375.7 L106.3,375.8 L107.5,376.3 L108.3,377.0 L108.6,377.8 M205.8,267.3 L205.1,267.4 L204.2,266.8 L203.4,265.8 L202.9,264.6 L202.7,263.4 L202.9,262.4 L203.4,261.9 L204.1,261.8 L205.0,262.4 L205.8,263.4 L206.3,264.6 L206.5,265.8 L206.3,266.8 L205.8,267.3" fill="none" stroke="#000" stroke-width="0.9"/>
<rect x="37.5" y="72.5" width="373.0" height="371.0" fill="none" stroke="#000" stroke-width="1"/>
<path d="M75.5,72.5 v-12.5 M75.5,443.5 v12.5 M300.5,72.5 v-12.5 M300.5,443.5 v12.5 M37.5,405.4 h-12.5 M410.5,405.4 h12.5 M37.5,180.4 h-12.5 M410.5,180.4 h12.5" stroke="#000" stroke-width="1" fill="none"/>
<path d="M120.5,72.5 v-6 M120.5,443.5 v6 M165.5,72.5 v-6 M165.5,443.5 v6 M210.5,72.5 v-6 M210.5,443.5 v6 M255.5,72.5 v-6 M255.5,443.5 v6 M345.5,72.5 v-6 M345.5,443.5 v6 M390.5,72.5 v-6 M390.5,443.5 v6 M37.5,360.4 h-6 M410.5,360.4 h6 M37.5,315.4 h-6 M410.5,315.4 h6 M37.5,270.4 h-6 M410.5,270.4 h6 M37.5,225.4 h-6 M410.5,225.4 h6 M37.5,135.4 h-6 M410.5,135.4 h6 M37.5,90.4 h-6 M410.5,90.4 h6" stroke="#222" stroke-width="0.75" fill="none"/>
<text x="75.5" y="470.4" font-size="10.2" text-anchor="middle">35E</text>
<text x="300.5" y="470.4" font-size="10.2" text-anchor="middle">40E</text>
<text x="18.3" y="408.9" font-size="10.2" text-anchor="end">30N</text>
<text x="18.3" y="183.9" font-size="10.2" text-anchor="end">35N</text>
<text x="37.2" y="53.7" font-size="12.5">TRMM 3B42RT</text>
<text x="410.8" y="53.7" font-size="12.5" text-anchor="end">run=6</text>
</g>
<g transform="translate(430.6,0)">
<g shape-rendering="crispEdges"><rect x="379.00" y="78.90" width="11.25" height="11.25" fill="#fff9e4"/>
<rect x="390.25" y="78.90" width="11.25" height="11.25" fill="#f0f8fd"/>
<rect x="210.25" y="90.15" width="11.25" height="11.25" fill="#fff9e4"/>
<rect x="221.50" y="90.15" width="11.25" height="11.25" fill="#f0f8fd"/>
<rect x="300.25" y="90.15" width="11.25" height="11.25" fill="#f0f8fd"/>
<rect x="311.50" y="90.15" width="11.25" height="11.25" fill="#fff9e4"/>
<rect x="322.75" y="90.15" width="11.25" height="11.25" fill="#f0f8fd"/>
<rect x="334.00" y="90.15" width="56.25" height="11.25" fill="#fff9e4"/>
<rect x="390.25" y="90.15" width="11.25" height="11.25" fill="#f0f8fd"/>
<rect x="142.75" y="101.40" width="11.25" height="11.25" fill="#a3dcf6"/>
<rect x="154.00" y="101.40" width="11.25" height="11.25" fill="#f0f8fd"/>
<rect x="165.25" y="101.40" width="33.75" height="11.25" fill="#a3dcf6"/>
<rect x="199.00" y="101.40" width="33.75" height="11.25" fill="#f0f8fd"/>
<rect x="232.75" y="101.40" width="11.25" height="11.25" fill="#fff9e4"/>
<rect x="244.00" y="101.40" width="22.50" height="11.25" fill="#f0f8fd"/>
<rect x="266.50" y="101.40" width="11.25" height="11.25" fill="#fff9e4"/>
<rect x="277.75" y="101.40" width="67.50" height="11.25" fill="#f0f8fd"/>
<rect x="345.25" y="101.40" width="22.50" height="11.25" fill="#fff9e4"/>
<rect x="367.75" y="101.40" width="22.50" height="11.25" fill="#f0f8fd"/>
<rect x="142.75" y="112.65" width="11.25" height="11.25" fill="#a3dcf6"/>
<rect x="154.00" y="112.65" width="56.25" height="11.25" fill="#f0f8fd"/>
<rect x="210.25" y="112.65" width="45.00" height="11.25" fill="#a3dcf6"/>
<rect x="255.25" y="112.65" width="11.25" height="11.25" fill="#f0f8fd"/>
<rect x="266.50" y="112.65" width="22.50" height="11.25" fill="#fff9e4"/>
<rect x="289.00" y="112.65" width="67.50" height="11.25" fill="#f0f8fd"/>
<rect x="142.75" y="123.90" width="11.25" height="11.25" fill="#f0f8fd"/>
<rect x="154.00" y="123.90" width="33.75" height="11.25" fill="#fff9e4"/>
<rect x="187.75" y="123.90" width="11.25" height="11.25" fill="#f0f8fd"/>
<rect x="199.00" y="123.90" width="45.00" height="11.25" fill="#a3dcf6"/>
<rect x="244.00" y="123.90" width="11.25" height="11.25" fill="#f0f8fd"/>
<rect x="255.25" y="123.90" width="11.25" height="11.25" fill="#fff9e4"/>
<rect x="266.50" y="123.90" width="22.50" height="11.25" fill="#f0f8fd"/>
<rect x="289.00" y="123.90" width="67.50" height="11.25" fill="#a3dcf6"/>
<rect x="131.50" y="135.15" width="33.75" height="11.25" fill="#f0f8fd"/>
<rect x="165.25" y="135.15" width="11.25" height="11.25" fill="#fdb942"/>
<rect x="176.50" y="135.15" width="33.75" height="11.25" fill="#f0f8fd"/>
<rect x="210.25" y="135.15" width="33.75" height="11.25" fill="#a3dcf6"/>
<rect x="244.00" y="135.15" width="33.75" height="11.25" fill="#f0f8fd"/>
<rect x="277.75" y="135.15" width="45.00" height="11.25" fill="#a3dcf6"/>
<rect x="322.75" y="135.15" width="11.25" height="11.25" fill="#3f81c3"/>
<rect x="334.00" y="135.15" width="33.75" height="11.25" fill="#f0f8fd"/>
<rect x="109.00" y="146.40" width="11.25" height="11.25" fill="#f0f8fd"/>
<rect x="120.25" y="146.40" width="11.25" height="11.25" fill="#a3dcf6"/>
<rect x="131.50" y="146.40" width="11.25" height="11.25" fill="#f0f8fd"/>
<rect x="142.75" y="146.40" width="33.75" height="11.25" fill="#fff9e4"/>
<rect x="176.50" y="146.40" width="11.25" height="11.25" fill="#fdb942"/>
<rect x="187.75" y="146.40" width="22.50" height="11.25" fill="#fff9e4"/>
<rect x="210.25" y="146.40" width="56.25" height="11.25" fill="#f0f8fd"/>
<rect x="266.50" y="146.40" width="90.00" height="11.25" fill="#a3dcf6"/>
<rect x="356.50" y="146.40" width="11.25" height="11.25" fill="#f0f8fd"/>
<rect x="120.25" y="157.65" width="22.50" height="11.25" fill="#f0f8fd"/>
<rect x="142.75" y="157.65" width="45.00" height="11.25" fill="#fff9e4"/>
<rect x="187.75" y="157.65" width="22.50" height="11.25" fill="#f0f8fd"/>
<rect x="210.25" y="157.65" width="22.50" height="11.25" fill="#a3dcf6"/>
<rect x="232.75" y="157.65" width="11.25" height="11.25" fill="#f0f8fd"/>
<rect x="244.00" y="157.65" width="11.25" height="11.25" fill="#a3dcf6"/>
<rect x="255.25" y="157.65" width="11.25" height="11.25" fill="#f0f8fd"/>
<rect x="266.50" y="157.65" width="11.25" height="11.25" fill="#a3dcf6"/>
<rect x="277.75" y="157.65" width="11.25" height="11.25" fill="#3f81c3"/>
<rect x="289.00" y="157.65" width="22.50" height="11.25" fill="#a3dcf6"/>
<rect x="311.50" y="157.65" width="45.00" height="11.25" fill="#f0f8fd"/>
<rect x="120.25" y="168.90" width="22.50" height="11.25" fill="#f0f8fd"/>
<rect x="142.75" y="168.90" width="22.50" height="11.25" fill="#fff9e4"/>
<rect x="165.25" y="168.90" width="45.00" height="11.25" fill="#f0f8fd"/>
<rect x="210.25" y="168.90" width="45.00" height="11.25" fill="#a3dcf6"/>
<rect x="255.25" y="168.90" width="22.50" height="11.25" fill="#f0f8fd"/>
<rect x="277.75" y="168.90" width="45.00" height="11.25" fill="#a3dcf6"/>
<rect x="322.75" y="168.90" width="33.75" height="11.25" fill="#f0f8fd"/>
<rect x="120.25" y="180.15" width="22.50" height="11.25" fill="#f0f8fd"/>
<rect x="142.75" y="180.15" width="22.50" height="11.25" fill="#fff9e4"/>
<rect x="165.25" y="180.15" width="11.25" height="11.25" fill="#a3dcf6"/>
<rect x="176.50" y="180.15" width="11.25" height="11.25" fill="#f0f8fd"/>
<rect x="187.75" y="180.15" width="11.25" height="11.25" fill="#a3dcf6"/>
<rect x="199.00" y="180.15" width="22.50" height="11.25" fill="#f0f8fd"/>
<rect x="221.50" y="180.15" width="22.50" height="11.25" fill="#fff9e4"/>
<rect x="244.00" y="180.15" width="33.75" height="11.25" fill="#f0f8fd"/>
<rect x="277.75" y="180.15" width="22.50" height="11.25" fill="#a3dcf6"/>
<rect x="300.25" y="180.15" width="56.25" height="11.25" fill="#f0f8fd"/>
<rect x="120.25" y="191.40" width="11.25" height="11.25" fill="#f0f8fd"/>
<rect x="131.50" y="191.40" width="11.25" height="11.25" fill="#fff9e4"/>
<rect x="142.75" y="191.40" width="11.25" height="11.25" fill="#fdb942"/>
<rect x="154.00" y="191.40" width="11.25" height="11.25" fill="#fff9e4"/>
<rect x="165.25" y="191.40" width="33.75" height="11.25" fill="#a3dcf6"/>
<rect x="199.00" y="191.40" width="22.50" height="11.25" fill="#f0f8fd"/>
<rect x="221.50" y="191.40" width="11.25" height="11.25" fill="#a3dcf6"/>
<rect x="232.75" y="191.40" width="67.50" height="11.25" fill="#f0f8fd"/>
<rect x="300.25" y="191.40" width="22.50" height="11.25" fill="#a3dcf6"/>
<rect x="322.75" y="191.40" width="33.75" height="11.25" fill="#f0f8fd"/>
<rect x="109.00" y="202.65" width="11.25" height="11.25" fill="#fff9e4"/>
<rect x="120.25" y="202.65" width="45.00" height="11.25" fill="#f0f8fd"/>
<rect x="165.25" y="202.65" width="33.75" height="11.25" fill="#a3dcf6"/>
<rect x="199.00" y="202.65" width="11.25" height="11.25" fill="#f0f8fd"/>
<rect x="210.25" y="202.65" width="11.25" height="11.25" fill="#a3dcf6"/>
<rect x="221.50" y="202.65" width="11.25" height="11.25" fill="#3f81c3"/>
<rect x="232.75" y="202.65" width="11.25" height="11.25" fill="#a3dcf6"/>
<rect x="244.00" y="202.65" width="56.25" height="11.25" fill="#f0f8fd"/>
<rect x="300.25" y="202.65" width="11.25" height="11.25" fill="#a3dcf6"/>
<rect x="311.50" y="202.65" width="33.75" height="11.25" fill="#f0f8fd"/>
<rect x="109.00" y="213.90" width="11.25" height="11.25" fill="#f0f8fd"/>
<rect x="120.25" y="213.90" width="11.25" height="11.25" fill="#a3dcf6"/>
<rect x="131.50" y="213.90" width="33.75" height="11.25" fill="#f0f8fd"/>
<rect x="165.25" y="213.90" width="67.50" height="11.25" fill="#a3dcf6"/>
<rect x="232.75" y="213.90" width="11.25" height="11.25" fill="#3f81c3"/>
<rect x="244.00" y="213.90" width="11.25" height="11.25" fill="#a3dcf6"/>
<rect x="255.25" y="213.90" width="33.75" height="11.25" fill="#f0f8fd"/>
<rect x="289.00" y="213.90" width="22.50" height="11.25" fill="#a3dcf6"/>
<rect x="97.75" y="225.15" width="45.00" height="11.25" fill="#f0f8fd"/>
<rect x="142.75" y="225.15" width="45.00" height="11.25" fill="#a3dcf6"/>
<rect x="187.75" y="225.15" width="22.50" height="11.25" fill="#f0f8fd"/>
<rect x="210.25" y="225.15" width="45.00" height="11.25" fill="#a3dcf6"/>
<rect x="255.25" y="225.15" width="33.75" height="11.25" fill="#f0f8fd"/>
<rect x="97.75" y="236.40" width="11.25" height="11.25" fill="#a3dcf6"/>
<rect x="109.00" y="236.40" width="22.50" height="11.25" fill="#f0f8fd"/>
<rect x="131.50" y="236.40" width="11.25" height="11.25" fill="#a3dcf6"/>
<rect x="142.75" y="236.40" width="11.25" height="11.25" fill="#f0f8fd"/>
<rect x="154.00" y="236.40" width="11.25" height="11.25" fill="#a3dcf6"/>
<rect x="165.25" y="236.40" width="56.25" height="11.25" fill="#f0f8fd"/>
<rect x="221.50" y="236.40" width="11.25" height="11.25" fill="#a3dcf6"/>
<rect x="232.75" y="236.40" width="11.25" height="11.25" fill="#3f81c3"/>
<rect x="244.00" y="236.40" width="22.50" height="11.25" fill="#a3dcf6"/>
<rect x="86.50" y="247.65" width="11.25" height="11.25" fill="#f0f8fd"/>
<rect x="97.75" y="247.65" width="11.25" height="11.25" fill="#fff9e4"/>
<rect x="109.00" y="247.65" width="11.25" height="11.25" fill="#fdb942"/>
<rect x="120.25" y="247.65" width="22.50" height="11.25" fill="#f0f8fd"/>
<rect x="142.75" y="247.65" width="22.50" height="11.25" fill="#a3dcf6"/>
<rect x="165.25" y="247.65" width="33.75" height="11.25" fill="#f0f8fd"/>
<rect x="199.00" y="247.65" width="11.25" height="11.25" fill="#fff9e4"/>
<rect x="210.25" y="247.65" width="11.25" height="11.25" fill="#f0f8fd"/>
<rect x="221.50" y="247.65" width="22.50" height="11.25" fill="#a3dcf6"/>
<rect x="244.00" y="247.65" width="11.25" height="11.25" fill="#f0f8fd"/>
<rect x="86.50" y="258.90" width="45.00" height="11.25" fill="#f0f8fd"/>
<rect x="131.50" y="258.90" width="11.25" height="11.25" fill="#a3dcf6"/>
<rect x="142.75" y="258.90" width="33.75" height="11.25" fill="#f0f8fd"/>
<rect x="176.50" y="258.90" width="11.25" height="11.25" fill="#a3dcf6"/>
<rect x="187.75" y="258.90" width="33.75" height="11.25" fill="#f0f8fd"/>
<rect x="221.50" y="258.90" width="22.50" height="11.25" fill="#a3dcf6"/>
<rect x="75.25" y="270.15" width="11.25" height="11.25" fill="#f0f8fd"/>
<rect x="86.50" y="270.15" width="11.25" height="11.25" fill="#fdb942"/>
<rect x="97.75" y="270.15" width="22.50" height="11.25" fill="#f0f8fd"/>
<rect x="120.25" y="270.15" width="11.25" height="11.25" fill="#fff9e4"/>
<rect x="131.50" y="270.15" width="11.25" height="11.25" fill="#fdb942"/>
<rect x="142.75" y="270.15" width="22.50" height="11.25" fill="#fff9e4"/>
<rect x="165.25" y="270.15" width="22.50" height="11.25" fill="#f0f8fd"/>
<rect x="187.75" y="270.15" width="11.25" height="11.25" fill="#a3dcf6"/>
<rect x="199.00" y="270.15" width="56.25" height="11.25" fill="#f0f8fd"/>
<rect x="75.25" y="281.40" width="11.25" height="11.25" fill="#f0f8fd"/>
<rect x="86.50" y="281.40" width="11.25" height="11.25" fill="#fff9e4"/>
<rect x="97.75" y="281.40" width="11.25" height="11.25" fill="#a3dcf6"/>
<rect x="109.00" y="281.40" width="11.25" height="11.25" fill="#f0f8fd"/>
<rect x="120.25" y="281.40" width="11.25" height="11.25" fill="#fff9e4"/>
<rect x="131.50" y="281.40" width="11.25" height="11.25" fill="#f0f8fd"/>
<rect x="142.75" y="281.40" width="11.25" height="11.25" fill="#a3dcf6"/>
<rect x="154.00" y="281.40" width="67.50" height="11.25" fill="#f0f8fd"/>
<rect x="221.50" y="281.40" width="11.25" height="11.25" fill="#fff9e4"/>
<rect x="232.75" y="281.40" width="11.25" height="11.25" fill="#f0f8fd"/>
<rect x="244.00" y="281.40" width="11.25" height="11.25" fill="#fff9e4"/>
<rect x="64.00" y="292.65" width="11.25" height="11.25" fill="#fff9e4"/>
<rect x="75.25" y="292.65" width="11.25" height="11.25" fill="#f0f8fd"/>
<rect x="86.50" y="292.65" width="11.25" height="11.25" fill="#fff9e4"/>
<rect x="97.75" y="292.65" width="78.75" height="11.25" fill="#f0f8fd"/>
<rect x="176.50" y="292.65" width="22.50" height="11.25" fill="#fff9e4"/>
<rect x="199.00" y="292.65" width="22.50" height="11.25" fill="#fdb942"/>
<rect x="221.50" y="292.65" width="22.50" height="11.25" fill="#fff9e4"/>
<rect x="244.00" y="292.65" width="11.25" height="11.25" fill="#f0f8fd"/>
<rect x="64.00" y="303.90" width="33.75" height="11.25" fill="#f0f8fd"/>
<rect x="97.75" y="303.90" width="22.50" height="11.25" fill="#a3dcf6"/>
<rect x="120.25" y="303.90" width="33.75" height="11.25" fill="#f0f8fd"/>
<rect x="154.00" y="303.90" width="22.50" height="11.25" fill="#fff9e4"/>
<rect x="176.50" y="303.90" width="11.25" height="11.25" fill="#e84a2a"/>
<rect x="187.75" y="303.90" width="11.25" height="11.25" fill="#fff9e4"/>
<rect x="199.00" y="303.90" width="11.25" height="11.25" fill="#f0f8fd"/>
<rect x="210.25" y="303.90" width="11.25" height="11.25" fill="#fff9e4"/>
<rect x="221.50" y="303.90" width="22.50" height="11.25" fill="#f0f8fd"/>
<rect x="244.00" y="303.90" width="11.25" height="11.25" fill="#a3dcf6"/>
<rect x="255.25" y="303.90" width="11.25" height="11.25" fill="#f0f8fd"/>
<rect x="64.00" y="315.15" width="45.00" height="11.25" fill="#f0f8fd"/>
<rect x="109.00" y="315.15" width="11.25" height="11.25" fill="#a3dcf6"/>
<rect x="120.25" y="315.15" width="11.25" height="11.25" fill="#f0f8fd"/>
<rect x="131.50" y="315.15" width="33.75" height="11.25" fill="#fff9e4"/>
<rect x="165.25" y="315.15" width="11.25" height="11.25" fill="#fdb942"/>
<rect x="176.50" y="315.15" width="11.25" height="11.25" fill="#fff9e4"/>
<rect x="187.75" y="315.15" width="22.50" height="11.25" fill="#f0f8fd"/>
<rect x="210.25" y="315.15" width="22.50" height="11.25" fill="#fff9e4"/>
<rect x="52.75" y="326.40" width="11.25" height="11.25" fill="#fdb942"/>
<rect x="64.00" y="326.40" width="11.25" height="11.25" fill="#f0f8fd"/>
<rect x="75.25" y="326.40" width="11.25" height="11.25" fill="#a3dcf6"/>
<rect x="86.50" y="326.40" width="11.25" height="11.25" fill="#f0f8fd"/>
<rect x="97.75" y="326.40" width="11.25" height="11.25" fill="#a3dcf6"/>
<rect x="109.00" y="326.40" width="11.25" height="11.25" fill="#fff9e4"/>
<rect x="120.25" y="326.40" width="22.50" height="11.25" fill="#f0f8fd"/>
<rect x="142.75" y="326.40" width="45.00" height="11.25" fill="#fff9e4"/>
<rect x="41.50" y="337.65" width="11.25" height="11.25" fill="#fff9e4"/>
<rect x="52.75" y="337.65" width="11.25" height="11.25" fill="#fdb942"/>
<rect x="64.00" y="337.65" width="22.50" height="11.25" fill="#f0f8fd"/>
<rect x="86.50" y="337.65" width="22.50" height="11.25" fill="#a3dcf6"/>
<rect x="109.00" y="337.65" width="11.25" height="11.25" fill="#fdb942"/>
<rect x="120.25" y="337.65" width="11.25" height="11.25" fill="#f0f8fd"/>
<rect x="131.50" y="337.65" width="33.75" height="11.25" fill="#fff9e4"/>
<rect x="165.25" y="337.65" width="11.25" height="11.25" fill="#f0f8fd"/>
<rect x="41.50" y="348.90" width="22.50" height="11.25" fill="#fff9e4"/>
<rect x="64.00" y="348.90" width="11.25" height="11.25" fill="#f0f8fd"/>
<rect x="75.25" y="348.90" width="11.25" height="11.25" fill="#fff9e4"/>
<rect x="86.50" y="348.90" width="11.25" height="11.25" fill="#a3dcf6"/>
<rect x="97.75" y="348.90" width="56.25" height="11.25" fill="#fff9e4"/>
<rect x="154.00" y="348.90" width="11.25" height="11.25" fill="#f0f8fd"/>
<rect x="165.25" y="348.90" width="11.25" height="11.25" fill="#fff9e4"/>
<rect x="176.50" y="348.90" width="11.25" height="11.25" fill="#f0f8fd"/>
<rect x="52.75" y="360.15" width="11.25" height="11.25" fill="#f0f8fd"/>
<rect x="64.00" y="360.15" width="11.25" height="11.25" fill="#fff9e4"/>
<rect x="75.25" y="360.15" width="45.00" height="11.25" fill="#f0f8fd"/>
<rect x="120.25" y="360.15" width="11.25" height="11.25" fill="#fdb942"/>
<rect x="131.50" y="360.15" width="22.50" height="11.25" fill="#fff9e4"/>
<rect x="154.00" y="360.15" width="11.25" height="11.25" fill="#fdb942"/>
<rect x="165.25" y="360.15" width="22.50" height="11.25" fill="#fff9e4"/>
<rect x="52.75" y="371.40" width="22.50" height="11.25" fill="#f0f8fd"/>
<rect x="75.25" y="371.40" width="22.50" height="11.25" fill="#fff9e4"/>
<rect x="97.75" y="371.40" width="11.25" height="11.25" fill="#f0f8fd"/>
<rect x="109.00" y="371.40" width="11.25" height="11.25" fill="#fff9e4"/>
<rect x="120.25" y="371.40" width="11.25" height="11.25" fill="#fdb942"/>
<rect x="131.50" y="371.40" width="22.50" height="11.25" fill="#fff9e4"/>
<rect x="154.00" y="371.40" width="11.25" height="11.25" fill="#fdb942"/>
<rect x="165.25" y="371.40" width="22.50" height="11.25" fill="#fff9e4"/>
<rect x="187.75" y="371.40" width="11.25" height="11.25" fill="#f0f8fd"/>
<rect x="52.75" y="382.65" width="11.25" height="11.25" fill="#f0f8fd"/>
<rect x="64.00" y="382.65" width="11.25" height="11.25" fill="#fff9e4"/>
<rect x="75.25" y="382.65" width="33.75" height="11.25" fill="#f0f8fd"/>
<rect x="109.00" y="382.65" width="78.75" height="11.25" fill="#fff9e4"/>
<rect x="187.75" y="382.65" width="11.25" height="11.25" fill="#f0f8fd"/>
<rect x="64.00" y="393.90" width="33.75" height="11.25" fill="#f0f8fd"/>
<rect x="97.75" y="393.90" width="11.25" height="11.25" fill="#fff9e4"/>
<rect x="109.00" y="393.90" width="11.25" height="11.25" fill="#fdb942"/>
<rect x="120.25" y="393.90" width="45.00" height="11.25" fill="#fff9e4"/>
<rect x="165.25" y="393.90" width="22.50" height="11.25" fill="#f0f8fd"/>
<rect x="64.00" y="405.15" width="33.75" height="11.25" fill="#f0f8fd"/>
<rect x="97.75" y="405.15" width="33.75" height="11.25" fill="#fff9e4"/>
<rect x="131.50" y="405.15" width="22.50" height="11.25" fill="#f0f8fd"/>
<rect x="64.00" y="416.40" width="11.25" height="11.25" fill="#f0f8fd"/>
<rect x="75.25" y="416.40" width="11.25" height="11.25" fill="#fdb942"/>
<rect x="86.50" y="416.40" width="33.75" height="11.25" fill="#f0f8fd"/>
<rect x="120.25" y="416.40" width="11.25" height="11.25" fill="#fff9e4"/>
<rect x="131.50" y="416.40" width="11.25" height="11.25" fill="#f0f8fd"/>
<rect x="75.25" y="427.65" width="11.25" height="11.25" fill="#fdb942"/>
<rect x="86.50" y="427.65" width="22.50" height="11.25" fill="#fff9e4"/>
<rect x="109.00" y="427.65" width="11.25" height="11.25" fill="#f0f8fd"/>
<rect x="120.25" y="427.65" width="11.25" height="11.25" fill="#fff9e4"/></g>
<use href="#map"/>
<path d="M141.3,184.9 L141.2,185.8 L140.6,186.8 L139.6,187.6 L138.2,188.0 L136.9,187.9 L135.9,187.5 L135.3,186.7 L135.4,185.8 L136.0,184.8 L137.0,184.0 L138.4,183.6 L139.7,183.7 L140.7,184.1 L141.3,184.9 M104.3,358.9 L104.8,359.5 L104.9,360.6 L104.5,361.8 L103.8,362.9 L102.9,363.7 L101.9,364.1 L101.1,363.9 L100.6,363.3 L100.5,362.2 L100.9,361.0 L101.6,359.9 L102.5,359.1 L103.5,358.7 L104.3,358.9" fill="none" stroke="#000" stroke-width="0.9"/>
<rect x="37.5" y="72.5" width="373.0" height="371.0" fill="none" stroke="#000" stroke-width="1"/>
<path d="M75.5,72.5 v-12.5 M75.5,443.5 v12.5 M300.5,72.5 v-12.5 M300.5,443.5 v12.5 M37.5,405.4 h-12.5 M410.5,405.4 h12.5 M37.5,180.4 h-12.5 M410.5,180.4 h12.5" stroke="#000" stroke-width="1" fill="none"/>
<path d="M120.5,72.5 v-6 M120.5,443.5 v6 M165.5,72.5 v-6 M165.5,443.5 v6 M210.5,72.5 v-6 M210.5,443.5 v6 M255.5,72.5 v-6 M255.5,443.5 v6 M345.5,72.5 v-6 M345.5,443.5 v6 M390.5,72.5 v-6 M390.5,443.5 v6 M37.5,360.4 h-6 M410.5,360.4 h6 M37.5,315.4 h-6 M410.5,315.4 h6 M37.5,270.4 h-6 M410.5,270.4 h6 M37.5,225.4 h-6 M410.5,225.4 h6 M37.5,135.4 h-6 M410.5,135.4 h6 M37.5,90.4 h-6 M410.5,90.4 h6" stroke="#222" stroke-width="0.75" fill="none"/>
<text x="75.5" y="470.4" font-size="10.2" text-anchor="middle">35E</text>
<text x="300.5" y="470.4" font-size="10.2" text-anchor="middle">40E</text>
<text x="18.3" y="408.9" font-size="10.2" text-anchor="end">30N</text>
<text x="18.3" y="183.9" font-size="10.2" text-anchor="end">35N</text>
<text x="37.2" y="53.7" font-size="12.5">TRMM 3B42RT</text>
<text x="410.8" y="53.7" font-size="12.5" text-anchor="end">run=12</text>
</g>
<g transform="translate(0,434.5)">
<g shape-rendering="crispEdges"><rect x="379.00" y="78.90" width="22.50" height="11.25" fill="#f0f8fd"/>
<rect x="210.25" y="90.15" width="11.25" height="11.25" fill="#a3dcf6"/>
<rect x="221.50" y="90.15" width="11.25" height="11.25" fill="#f0f8fd"/>
<rect x="300.25" y="90.15" width="101.25" height="11.25" fill="#f0f8fd"/>
<rect x="142.75" y="101.40" width="11.25" height="11.25" fill="#f0f8fd"/>
<rect x="154.00" y="101.40" width="11.25" height="11.25" fill="#fff9e4"/>
<rect x="165.25" y="101.40" width="11.25" height="11.25" fill="#f0f8fd"/>
<rect x="176.50" y="101.40" width="11.25" height="11.25" fill="#a3dcf6"/>
<rect x="187.75" y="101.40" width="33.75" height="11.25" fill="#f0f8fd"/>
<rect x="221.50" y="101.40" width="11.25" height="11.25" fill="#a3dcf6"/>
<rect x="232.75" y="101.40" width="11.25" height="11.25" fill="#f0f8fd"/>
<rect x="244.00" y="101.40" width="67.50" height="11.25" fill="#a3dcf6"/>
<rect x="311.50" y="101.40" width="67.50" height="11.25" fill="#f0f8fd"/>
<rect x="379.00" y="101.40" width="11.25" height="11.25" fill="#a3dcf6"/>
<rect x="142.75" y="112.65" width="22.50" height="11.25" fill="#fff9e4"/>
<rect x="165.25" y="112.65" width="45.00" height="11.25" fill="#f0f8fd"/>
<rect x="210.25" y="112.65" width="67.50" height="11.25" fill="#a3dcf6"/>
<rect x="277.75" y="112.65" width="11.25" height="11.25" fill="#f0f8fd"/>
<rect x="289.00" y="112.65" width="11.25" height="11.25" fill="#a3dcf6"/>
<rect x="300.25" y="112.65" width="11.25" height="11.25" fill="#3f81c3"/>
<rect x="311.50" y="112.65" width="45.00" height="11.25" fill="#a3dcf6"/>
<rect x="142.75" y="123.90" width="45.00" height="11.25" fill="#fff9e4"/>
<rect x="187.75" y="123.90" width="22.50" height="11.25" fill="#f0f8fd"/>
<rect x="210.25" y="123.90" width="45.00" height="11.25" fill="#a3dcf6"/>
<rect x="255.25" y="123.90" width="22.50" height="11.25" fill="#f0f8fd"/>
<rect x="277.75" y="123.90" width="11.25" height="11.25" fill="#a3dcf6"/>
<rect x="289.00" y="123.90" width="33.75" height="11.25" fill="#3f81c3"/>
<rect x="322.75" y="123.90" width="22.50" height="11.25" fill="#a3dcf6"/>
<rect x="345.25" y="123.90" width="11.25" height="11.25" fill="#3f81c3"/>
<rect x="131.50" y="135.15" width="33.75" height="11.25" fill="#fff9e4"/>
<rect x="165.25" y="135.15" width="11.25" height="11.25" fill="#fdb942"/>
<rect x="176.50" y="135.15" width="33.75" height="11.25" fill="#f0f8fd"/>
<rect x="210.25" y="135.15" width="11.25" height="11.25" fill="#3f81c3"/>
<rect x="221.50" y="135.15" width="22.50" height="11.25" fill="#a3dcf6"/>
<rect x="244.00" y="135.15" width="22.50" height="11.25" fill="#f0f8fd"/>
<rect x="266.50" y="135.15" width="22.50" height="11.25" fill="#a3dcf6"/>
<rect x="289.00" y="135.15" width="22.50" height="11.25" fill="#3f81c3"/>
<rect x="311.50" y="135.15" width="22.50" height="11.25" fill="#a3dcf6"/>
<rect x="334.00" y="135.15" width="11.25" height="11.25" fill="#f0f8fd"/>
<rect x="345.25" y="135.15" width="11.25" height="11.25" fill="#a3dcf6"/>
<rect x="356.50" y="135.15" width="11.25" height="11.25" fill="#f0f8fd"/>
<rect x="109.00" y="146.40" width="78.75" height="11.25" fill="#fff9e4"/>
<rect x="187.75" y="146.40" width="22.50" height="11.25" fill="#f0f8fd"/>
<rect x="210.25" y="146.40" width="33.75" height="11.25" fill="#a3dcf6"/>
<rect x="244.00" y="146.40" width="11.25" height="11.25" fill="#f0f8fd"/>
<rect x="255.25" y="146.40" width="11.25" height="11.25" fill="#a3dcf6"/>
<rect x="266.50" y="146.40" width="33.75" height="11.25" fill="#3f81c3"/>
<rect x="300.25" y="146.40" width="67.50" height="11.25" fill="#a3dcf6"/>
<rect x="120.25" y="157.65" width="11.25" height="11.25" fill="#fff9e4"/>
<rect x="131.50" y="157.65" width="33.75" height="11.25" fill="#fdb942"/>
<rect x="165.25" y="157.65" width="11.25" height="11.25" fill="#fff9e4"/>
<rect x="176.50" y="157.65" width="33.75" height="11.25" fill="#f0f8fd"/>
<rect x="210.25" y="157.65" width="11.25" height="11.25" fill="#3f81c3"/>
<rect x="221.50" y="157.65" width="112.50" height="11.25" fill="#a3dcf6"/>
<rect x="334.00" y="157.65" width="22.50" height="11.25" fill="#f0f8fd"/>
<rect x="120.25" y="168.90" width="11.25" height="11.25" fill="#fff9e4"/>
<rect x="131.50" y="168.90" width="11.25" height="11.25" fill="#fdb942"/>
<rect x="142.75" y="168.90" width="22.50" height="11.25" fill="#fff9e4"/>
<rect x="165.25" y="168.90" width="33.75" height="11.25" fill="#f0f8fd"/>
<rect x="199.00" y="168.90" width="11.25" height="11.25" fill="#a3dcf6"/>
<rect x="210.25" y="168.90" width="11.25" height="11.25" fill="#3f81c3"/>
<rect x="221.50" y="168.90" width="11.25" height="11.25" fill="#a3dcf6"/>
<rect x="232.75" y="168.90" width="11.25" height="11.25" fill="#3f81c3"/>
<rect x="244.00" y="168.90" width="101.25" height="11.25" fill="#a3dcf6"/>
<rect x="345.25" y="168.90" width="11.25" height="11.25" fill="#f0f8fd"/>
<rect x="120.25" y="180.15" width="33.75" height="11.25" fill="#fdb942"/>
<rect x="154.00" y="180.15" width="11.25" height="11.25" fill="#fff9e4"/>
<rect x="165.25" y="180.15" width="11.25" height="11.25" fill="#a3dcf6"/>
<rect x="176.50" y="180.15" width="11.25" height="11.25" fill="#f0f8fd"/>
<rect x="187.75" y="180.15" width="22.50" height="11.25" fill="#a3dcf6"/>
<rect x="210.25" y="180.15" width="11.25" height="11.25" fill="#3f81c3"/>
<rect x="221.50" y="180.15" width="11.25" height="11.25" fill="#f0f8fd"/>
<rect x="232.75" y="180.15" width="78.75" height="11.25" fill="#a3dcf6"/>
<rect x="311.50" y="180.15" width="11.25" height="11.25" fill="#3f81c3"/>
<rect x="322.75" y="180.15" width="33.75" height="11.25" fill="#a3dcf6"/>
<rect x="120.25" y="191.40" width="22.50" height="11.25" fill="#fdb942"/>
<rect x="142.75" y="191.40" width="11.25" height="11.25" fill="#e84a2a"/>
<rect x="154.00" y="191.40" width="11.25" height="11.25" fill="#fff9e4"/>
<rect x="165.25" y="191.40" width="11.25" height="11.25" fill="#3f81c3"/>
<rect x="176.50" y="191.40" width="45.00" height="11.25" fill="#a3dcf6"/>
<rect x="221.50" y="191.40" width="11.25" height="11.25" fill="#3f81c3"/>
<rect x="232.75" y="191.40" width="11.25" height="11.25" fill="#a3dcf6"/>
<rect x="244.00" y="191.40" width="22.50" height="11.25" fill="#3f81c3"/>
<rect x="266.50" y="191.40" width="33.75" height="11.25" fill="#a3dcf6"/>
<rect x="300.25" y="191.40" width="22.50" height="11.25" fill="#3f81c3"/>
<rect x="322.75" y="191.40" width="22.50" height="11.25" fill="#a3dcf6"/>
<rect x="345.25" y="191.40" width="11.25" height="11.25" fill="#f0f8fd"/>
<rect x="109.00" y="202.65" width="11.25" height="11.25" fill="#fdb942"/>
<rect x="120.25" y="202.65" width="11.25" height="11.25" fill="#a3dcf6"/>
<rect x="131.50" y="202.65" width="33.75" height="11.25" fill="#fff9e4"/>
<rect x="165.25" y="202.65" width="22.50" height="11.25" fill="#3f81c3"/>
<rect x="187.75" y="202.65" width="22.50" height="11.25" fill="#a3dcf6"/>
<rect x="210.25" y="202.65" width="22.50" height="11.25" fill="#3f81c3"/>
<rect x="232.75" y="202.65" width="112.50" height="11.25" fill="#a3dcf6"/>
<rect x="109.00" y="213.90" width="11.25" height="11.25" fill="#fdb942"/>
<rect x="120.25" y="213.90" width="33.75" height="11.25" fill="#a3dcf6"/>
<rect x="154.00" y="213.90" width="11.25" height="11.25" fill="#fff9e4"/>
<rect x="165.25" y="213.90" width="11.25" height="11.25" fill="#a3dcf6"/>
<rect x="176.50" y="213.90" width="11.25" height="11.25" fill="#f0f8fd"/>
<rect x="187.75" y="213.90" width="22.50" height="11.25" fill="#a3dcf6"/>
<rect x="210.25" y="213.90" width="11.25" height="11.25" fill="#3f81c3"/>
<rect x="221.50" y="213.90" width="11.25" height="11.25" fill="#a3dcf6"/>
<rect x="232.75" y="213.90" width="33.75" height="11.25" fill="#3f81c3"/>
<rect x="266.50" y="213.90" width="22.50" height="11.25" fill="#a3dcf6"/>
<rect x="289.00" y="213.90" width="22.50" height="11.25" fill="#3f81c3"/>
<rect x="97.75" y="225.15" width="22.50" height="11.25" fill="#fdb942"/>
<rect x="120.25" y="225.15" width="11.25" height="11.25" fill="#fff9e4"/>
<rect x="131.50" y="225.15" width="11.25" height="11.25" fill="#a3dcf6"/>
<rect x="142.75" y="225.15" width="22.50" height="11.25" fill="#f0f8fd"/>
<rect x="165.25" y="225.15" width="11.25" height="11.25" fill="#a3dcf6"/>
<rect x="176.50" y="225.15" width="11.25" height="11.25" fill="#f0f8fd"/>
<rect x="187.75" y="225.15" width="11.25" height="11.25" fill="#fff9e4"/>
<rect x="199.00" y="225.15" width="11.25" height="11.25" fill="#a3dcf6"/>
<rect x="210.25" y="225.15" width="11.25" height="11.25" fill="#3f81c3"/>
<rect x="221.50" y="225.15" width="11.25" height="11.25" fill="#a3dcf6"/>
<rect x="232.75" y="225.15" width="33.75" height="11.25" fill="#3f81c3"/>
<rect x="266.50" y="225.15" width="22.50" height="11.25" fill="#a3dcf6"/>
<rect x="97.75" y="236.40" width="11.25" height="11.25" fill="#fff9e4"/>
<rect x="109.00" y="236.40" width="11.25" height="11.25" fill="#fdb942"/>
<rect x="120.25" y="236.40" width="11.25" height="11.25" fill="#fff9e4"/>
<rect x="131.50" y="236.40" width="11.25" height="11.25" fill="#f0f8fd"/>
<rect x="142.75" y="236.40" width="11.25" height="11.25" fill="#fff9e4"/>
<rect x="154.00" y="236.40" width="11.25" height="11.25" fill="#f0f8fd"/>
<rect x="165.25" y="236.40" width="11.25" height="11.25" fill="#fff9e4"/>
<rect x="176.50" y="236.40" width="11.25" height="11.25" fill="#f0f8fd"/>
<rect x="187.75" y="236.40" width="11.25" height="11.25" fill="#fff9e4"/>
<rect x="199.00" y="236.40" width="11.25" height="11.25" fill="#f0f8fd"/>
<rect x="210.25" y="236.40" width="22.50" height="11.25" fill="#a3dcf6"/>
<rect x="232.75" y="236.40" width="11.25" height="11.25" fill="#3f81c3"/>
<rect x="244.00" y="236.40" width="22.50" height="11.25" fill="#a3dcf6"/>
<rect x="86.50" y="247.65" width="11.25" height="11.25" fill="#fff9e4"/>
<rect x="97.75" y="247.65" width="11.25" height="11.25" fill="#fdb942"/>
<rect x="109.00" y="247.65" width="11.25" height="11.25" fill="#e84a2a"/>
<rect x="120.25" y="247.65" width="22.50" height="11.25" fill="#fff9e4"/>
<rect x="142.75" y="247.65" width="22.50" height="11.25" fill="#f0f8fd"/>
<rect x="165.25" y="247.65" width="33.75" height="11.25" fill="#fff9e4"/>
<rect x="199.00" y="247.65" width="11.25" height="11.25" fill="#f0f8fd"/>
<rect x="210.25" y="247.65" width="33.75" height="11.25" fill="#a3dcf6"/>
<rect x="244.00" y="247.65" width="11.25" height="11.25" fill="#f0f8fd"/>
<rect x="86.50" y="258.90" width="11.25" height="11.25" fill="#fff9e4"/>
<rect x="97.75" y="258.90" width="11.25" height="11.25" fill="#fdb942"/>
<rect x="109.00" y="258.90" width="22.50" height="11.25" fill="#fff9e4"/>
<rect x="131.50" y="258.90" width="11.25" height="11.25" fill="#a3dcf6"/>
<rect x="142.75" y="258.90" width="22.50" height="11.25" fill="#fff9e4"/>
<rect x="165.25" y="258.90" width="22.50" height="11.25" fill="#f0f8fd"/>
<rect x="187.75" y="258.90" width="45.00" height="11.25" fill="#a3dcf6"/>
<rect x="232.75" y="258.90" width="11.25" height="11.25" fill="#f0f8fd"/>
<rect x="75.25" y="270.15" width="11.25" height="11.25" fill="#fff9e4"/>
<rect x="86.50" y="270.15" width="11.25" height="11.25" fill="#fdb942"/>
<rect x="97.75" y="270.15" width="11.25" height="11.25" fill="#f0f8fd"/>
<rect x="109.00" y="270.15" width="22.50" height="11.25" fill="#fff9e4"/>
<rect x="131.50" y="270.15" width="11.25" height="11.25" fill="#fdb942"/>
<rect x="142.75" y="270.15" width="33.75" height="11.25" fill="#fff9e4"/>
<rect x="176.50" y="270.15" width="67.50" height="11.25" fill="#f0f8fd"/>
<rect x="244.00" y="270.15" width="11.25" height="11.25" fill="#fff9e4"/>
<rect x="75.25" y="281.40" width="11.25" height="11.25" fill="#fff9e4"/>
<rect x="86.50" y="281.40" width="11.25" height="11.25" fill="#fdb942"/>
<rect x="97.75" y="281.40" width="11.25" height="11.25" fill="#a3dcf6"/>
<rect x="109.00" y="281.40" width="22.50" height="11.25" fill="#fff9e4"/>
<rect x="131.50" y="281.40" width="11.25" height="11.25" fill="#f0f8fd"/>
<rect x="142.75" y="281.40" width="11.25" height="11.25" fill="#3f81c3"/>
<rect x="154.00" y="281.40" width="11.25" height="11.25" fill="#a3dcf6"/>
<rect x="165.25" y="281.40" width="22.50" height="11.25" fill="#fff9e4"/>
<rect x="187.75" y="281.40" width="56.25" height="11.25" fill="#f0f8fd"/>
<rect x="244.00" y="281.40" width="11.25" height="11.25" fill="#fdb942"/>
<rect x="64.00" y="292.65" width="22.50" height="11.25" fill="#fff9e4"/>
<rect x="86.50" y="292.65" width="11.25" height="11.25" fill="#fdb942"/>
<rect x="97.75" y="292.65" width="22.50" height="11.25" fill="#f0f8fd"/>
<rect x="120.25" y="292.65" width="11.25" height="11.25" fill="#fff9e4"/>
<rect x="131.50" y="292.65" width="33.75" height="11.25" fill="#f0f8fd"/>
<rect x="165.25" y="292.65" width="45.00" height="11.25" fill="#fff9e4"/>
<rect x="210.25" y="292.65" width="11.25" height="11.25" fill="#fdb942"/>
<rect x="221.50" y="292.65" width="33.75" height="11.25" fill="#fff9e4"/>
<rect x="64.00" y="303.90" width="11.25" height="11.25" fill="#fff9e4"/>
<rect x="75.25" y="303.90" width="11.25" height="11.25" fill="#f0f8fd"/>
<rect x="86.50" y="303.90" width="11.25" height="11.25" fill="#fff9e4"/>
<rect x="97.75" y="303.90" width="33.75" height="11.25" fill="#f0f8fd"/>
<rect x="131.50" y="303.90" width="11.25" height="11.25" fill="#fff9e4"/>
<rect x="142.75" y="303.90" width="22.50" height="11.25" fill="#fdb942"/>
<rect x="165.25" y="303.90" width="11.25" height="11.25" fill="#fff9e4"/>
<rect x="176.50" y="303.90" width="11.25" height="11.25" fill="#e84a2a"/>
<rect x="187.75" y="303.90" width="11.25" height="11.25" fill="#fdb942"/>
<rect x="199.00" y="303.90" width="22.50" height="11.25" fill="#fff9e4"/>
<rect x="221.50" y="303.90" width="22.50" height="11.25" fill="#f0f8fd"/>
<rect x="244.00" y="303.90" width="11.25" height="11.25" fill="#a3dcf6"/>
<rect x="255.25" y="303.90" width="11.25" height="11.25" fill="#f0f8fd"/>
<rect x="64.00" y="315.15" width="11.25" height="11.25" fill="#fff9e4"/>
<rect x="75.25" y="315.15" width="11.25" height="11.25" fill="#f0f8fd"/>
<rect x="86.50" y="315.15" width="11.25" height="11.25" fill="#fff9e4"/>
<rect x="97.75" y="315.15" width="22.50" height="11.25" fill="#f0f8fd"/>
<rect x="120.25" y="315.15" width="11.25" height="11.25" fill="#fff9e4"/>
<rect x="131.50" y="315.15" width="45.00" height="11.25" fill="#fdb942"/>
<rect x="176.50" y="315.15" width="11.25" height="11.25" fill="#fff9e4"/>
<rect x="187.75" y="315.15" width="11.25" height="11.25" fill="#f0f8fd"/>
<rect x="199.00" y="315.15" width="33.75" height="11.25" fill="#fff9e4"/>
<rect x="52.75" y="326.40" width="11.25" height="11.25" fill="#fff9e4"/>
<rect x="64.00" y="326.40" width="33.75" height="11.25" fill="#f0f8fd"/>
<rect x="97.75" y="326.40" width="11.25" height="11.25" fill="#a3dcf6"/>
<rect x="109.00" y="326.40" width="45.00" height="11.25" fill="#fff9e4"/>
<rect x="154.00" y="326.40" width="11.25" height="11.25" fill="#fdb942"/>
<rect x="165.25" y="326.40" width="22.50" height="11.25" fill="#fff9e4"/>
<rect x="41.50" y="337.65" width="11.25" height="11.25" fill="#fff9e4"/>
<rect x="52.75" y="337.65" width="11.25" height="11.25" fill="#fdb942"/>
<rect x="64.00" y="337.65" width="22.50" height="11.25" fill="#fff9e4"/>
<rect x="86.50" y="337.65" width="22.50" height="11.25" fill="#a3dcf6"/>
<rect x="109.00" y="337.65" width="11.25" height="11.25" fill="#fdb942"/>
<rect x="120.25" y="337.65" width="33.75" height="11.25" fill="#fff9e4"/>
<rect x="154.00" y="337.65" width="11.25" height="11.25" fill="#fdb942"/>
<rect x="165.25" y="337.65" width="11.25" height="11.25" fill="#f0f8fd"/>
<rect x="41.50" y="348.90" width="11.25" height="11.25" fill="#fff9e4"/>
<rect x="52.75" y="348.90" width="11.25" height="11.25" fill="#fdb942"/>
<rect x="64.00" y="348.90" width="11.25" height="11.25" fill="#fff9e4"/>
<rect x="75.25" y="348.90" width="11.25" height="11.25" fill="#fdb942"/>
<rect x="86.50" y="348.90" width="11.25" height="11.25" fill="#a3dcf6"/>
<rect x="97.75" y="348.90" width="33.75" height="11.25" fill="#fdb942"/>
<rect x="131.50" y="348.90" width="45.00" height="11.25" fill="#fff9e4"/>
<rect x="176.50" y="348.90" width="11.25" height="11.25" fill="#f0f8fd"/>
<rect x="52.75" y="360.15" width="11.25" height="11.25" fill="#f0f8fd"/>
<rect x="64.00" y="360.15" width="33.75" height="11.25" fill="#fff9e4"/>
<rect x="97.75" y="360.15" width="22.50" height="11.25" fill="#f0f8fd"/>
<rect x="120.25" y="360.15" width="11.25" height="11.25" fill="#fdb942"/>
<rect x="131.50" y="360.15" width="56.25" height="11.25" fill="#fff9e4"/>
<rect x="52.75" y="371.40" width="33.75" height="11.25" fill="#fff9e4"/>
<rect x="86.50" y="371.40" width="11.25" height="11.25" fill="#f0f8fd"/>
<rect x="97.75" y="371.40" width="11.25" height="11.25" fill="#a3dcf6"/>
<rect x="109.00" y="371.40" width="11.25" height="11.25" fill="#fff9e4"/>
<rect x="120.25" y="371.40" width="11.25" height="11.25" fill="#fdb942"/>
<rect x="131.50" y="371.40" width="11.25" height="11.25" fill="#fff9e4"/>
<rect x="142.75" y="371.40" width="22.50" height="11.25" fill="#fdb942"/>
<rect x="165.25" y="371.40" width="11.25" height="11.25" fill="#fff9e4"/>
<rect x="176.50" y="371.40" width="22.50" height="11.25" fill="#f0f8fd"/>
<rect x="52.75" y="382.65" width="56.25" height="11.25" fill="#f0f8fd"/>
<rect x="109.00" y="382.65" width="11.25" height="11.25" fill="#fff9e4"/>
<rect x="120.25" y="382.65" width="11.25" height="11.25" fill="#fdb942"/>
<rect x="131.50" y="382.65" width="22.50" height="11.25" fill="#fff9e4"/>
<rect x="154.00" y="382.65" width="11.25" height="11.25" fill="#f0f8fd"/>
<rect x="165.25" y="382.65" width="11.25" height="11.25" fill="#a3dcf6"/>
<rect x="176.50" y="382.65" width="22.50" height="11.25" fill="#f0f8fd"/>
<rect x="64.00" y="393.90" width="11.25" height="11.25" fill="#fff9e4"/>
<rect x="75.25" y="393.90" width="33.75" height="11.25" fill="#f0f8fd"/>
<rect x="109.00" y="393.90" width="45.00" height="11.25" fill="#fff9e4"/>
<rect x="154.00" y="393.90" width="11.25" height="11.25" fill="#f0f8fd"/>
<rect x="165.25" y="393.90" width="22.50" height="11.25" fill="#a3dcf6"/>
<rect x="64.00" y="405.15" width="56.25" height="11.25" fill="#f0f8fd"/>
<rect x="120.25" y="405.15" width="11.25" height="11.25" fill="#fff9e4"/>
<rect x="131.50" y="405.15" width="22.50" height="11.25" fill="#f0f8fd"/>
<rect x="64.00" y="416.40" width="56.25" height="11.25" fill="#f0f8fd"/>
<rect x="120.25" y="416.40" width="22.50" height="11.25" fill="#fff9e4"/>
<rect x="75.25" y="427.65" width="11.25" height="11.25" fill="#fff9e4"/>
<rect x="86.50" y="427.65" width="33.75" height="11.25" fill="#f0f8fd"/>
<rect x="120.25" y="427.65" width="11.25" height="11.25" fill="#fff9e4"/></g>
<use href="#map"/>
<text transform="translate(260.8,218.8) rotate(18)" font-size="9" font-style="italic" text-anchor="middle" dy="3.1">2</text>
<rect x="37.5" y="72.5" width="373.0" height="371.0" fill="none" stroke="#000" stroke-width="1"/>
<path d="M75.5,72.5 v-12.5 M75.5,443.5 v12.5 M300.5,72.5 v-12.5 M300.5,443.5 v12.5 M37.5,405.4 h-12.5 M410.5,405.4 h12.5 M37.5,180.4 h-12.5 M410.5,180.4 h12.5" stroke="#000" stroke-width="1" fill="none"/>
<path d="M120.5,72.5 v-6 M120.5,443.5 v6 M165.5,72.5 v-6 M165.5,443.5 v6 M210.5,72.5 v-6 M210.5,443.5 v6 M255.5,72.5 v-6 M255.5,443.5 v6 M345.5,72.5 v-6 M345.5,443.5 v6 M390.5,72.5 v-6 M390.5,443.5 v6 M37.5,360.4 h-6 M410.5,360.4 h6 M37.5,315.4 h-6 M410.5,315.4 h6 M37.5,270.4 h-6 M410.5,270.4 h6 M37.5,225.4 h-6 M410.5,225.4 h6 M37.5,135.4 h-6 M410.5,135.4 h6 M37.5,90.4 h-6 M410.5,90.4 h6" stroke="#222" stroke-width="0.75" fill="none"/>
<text x="75.5" y="470.4" font-size="10.2" text-anchor="middle">35E</text>
<text x="300.5" y="470.4" font-size="10.2" text-anchor="middle">40E</text>
<text x="18.3" y="408.9" font-size="10.2" text-anchor="end">30N</text>
<text x="18.3" y="183.9" font-size="10.2" text-anchor="end">35N</text>
<text x="37.2" y="53.7" font-size="12.5">TRMM 3B42RT</text>
<text x="410.8" y="53.7" font-size="12.5" text-anchor="end">run=24</text>
</g>
<g transform="translate(430.6,434.5)">
<g shape-rendering="crispEdges"><rect x="379.00" y="78.90" width="22.50" height="11.25" fill="#f0f8fd"/>
<rect x="210.25" y="90.15" width="22.50" height="11.25" fill="#a3dcf6"/>
<rect x="300.25" y="90.15" width="33.75" height="11.25" fill="#f0f8fd"/>
<rect x="334.00" y="90.15" width="56.25" height="11.25" fill="#fff9e4"/>
<rect x="390.25" y="90.15" width="11.25" height="11.25" fill="#f0f8fd"/>
<rect x="142.75" y="101.40" width="33.75" height="11.25" fill="#a3dcf6"/>
<rect x="176.50" y="101.40" width="11.25" height="11.25" fill="#3f81c3"/>
<rect x="187.75" y="101.40" width="11.25" height="11.25" fill="#a3dcf6"/>
<rect x="199.00" y="101.40" width="22.50" height="11.25" fill="#f0f8fd"/>
<rect x="221.50" y="101.40" width="78.75" height="11.25" fill="#a3dcf6"/>
<rect x="300.25" y="101.40" width="22.50" height="11.25" fill="#f0f8fd"/>
<rect x="322.75" y="101.40" width="45.00" height="11.25" fill="#fff9e4"/>
<rect x="367.75" y="101.40" width="22.50" height="11.25" fill="#f0f8fd"/>
<rect x="142.75" y="112.65" width="11.25" height="11.25" fill="#a3dcf6"/>
<rect x="154.00" y="112.65" width="11.25" height="11.25" fill="#f0f8fd"/>
<rect x="165.25" y="112.65" width="22.50" height="11.25" fill="#a3dcf6"/>
<rect x="187.75" y="112.65" width="45.00" height="11.25" fill="#f0f8fd"/>
<rect x="232.75" y="112.65" width="56.25" height="11.25" fill="#a3dcf6"/>
<rect x="289.00" y="112.65" width="11.25" height="11.25" fill="#3f81c3"/>
<rect x="300.25" y="112.65" width="22.50" height="11.25" fill="#a3dcf6"/>
<rect x="322.75" y="112.65" width="33.75" height="11.25" fill="#f0f8fd"/>
<rect x="142.75" y="123.90" width="33.75" height="11.25" fill="#f0f8fd"/>
<rect x="176.50" y="123.90" width="11.25" height="11.25" fill="#fff9e4"/>
<rect x="187.75" y="123.90" width="33.75" height="11.25" fill="#f0f8fd"/>
<rect x="221.50" y="123.90" width="56.25" height="11.25" fill="#a3dcf6"/>
<rect x="277.75" y="123.90" width="22.50" height="11.25" fill="#3f81c3"/>
<rect x="300.25" y="123.90" width="11.25" height="11.25" fill="#a3dcf6"/>
<rect x="311.50" y="123.90" width="22.50" height="11.25" fill="#3f81c3"/>
<rect x="334.00" y="123.90" width="22.50" height="11.25" fill="#a3dcf6"/>
<rect x="131.50" y="135.15" width="33.75" height="11.25" fill="#f0f8fd"/>
<rect x="165.25" y="135.15" width="11.25" height="11.25" fill="#fff9e4"/>
<rect x="176.50" y="135.15" width="33.75" height="11.25" fill="#f0f8fd"/>
<rect x="210.25" y="135.15" width="11.25" height="11.25" fill="#3f81c3"/>
<rect x="221.50" y="135.15" width="67.50" height="11.25" fill="#a3dcf6"/>
<rect x="289.00" y="135.15" width="33.75" height="11.25" fill="#3f81c3"/>
<rect x="322.75" y="135.15" width="11.25" height="11.25" fill="#a3dcf6"/>
<rect x="334.00" y="135.15" width="11.25" height="11.25" fill="#f0f8fd"/>
<rect x="345.25" y="135.15" width="11.25" height="11.25" fill="#a3dcf6"/>
<rect x="356.50" y="135.15" width="11.25" height="11.25" fill="#f0f8fd"/>
<rect x="109.00" y="146.40" width="11.25" height="11.25" fill="#f0f8fd"/>
<rect x="120.25" y="146.40" width="11.25" height="11.25" fill="#a3dcf6"/>
<rect x="131.50" y="146.40" width="78.75" height="11.25" fill="#f0f8fd"/>
<rect x="210.25" y="146.40" width="11.25" height="11.25" fill="#a3dcf6"/>
<rect x="221.50" y="146.40" width="11.25" height="11.25" fill="#f0f8fd"/>
<rect x="232.75" y="146.40" width="33.75" height="11.25" fill="#a3dcf6"/>
<rect x="266.50" y="146.40" width="56.25" height="11.25" fill="#3f81c3"/>
<rect x="322.75" y="146.40" width="45.00" height="11.25" fill="#a3dcf6"/>
<rect x="120.25" y="157.65" width="22.50" height="11.25" fill="#f0f8fd"/>
<rect x="142.75" y="157.65" width="11.25" height="11.25" fill="#fff9e4"/>
<rect x="154.00" y="157.65" width="56.25" height="11.25" fill="#f0f8fd"/>
<rect x="210.25" y="157.65" width="11.25" height="11.25" fill="#3f81c3"/>
<rect x="221.50" y="157.65" width="45.00" height="11.25" fill="#a3dcf6"/>
<rect x="266.50" y="157.65" width="22.50" height="11.25" fill="#3f81c3"/>
<rect x="289.00" y="157.65" width="11.25" height="11.25" fill="#a3dcf6"/>
<rect x="300.25" y="157.65" width="11.25" height="11.25" fill="#3f81c3"/>
<rect x="311.50" y="157.65" width="22.50" height="11.25" fill="#a3dcf6"/>
<rect x="334.00" y="157.65" width="22.50" height="11.25" fill="#f0f8fd"/>
<rect x="120.25" y="168.90" width="90.00" height="11.25" fill="#f0f8fd"/>
<rect x="210.25" y="168.90" width="33.75" height="11.25" fill="#3f81c3"/>
<rect x="244.00" y="168.90" width="22.50" height="11.25" fill="#a3dcf6"/>
<rect x="266.50" y="168.90" width="33.75" height="11.25" fill="#3f81c3"/>
<rect x="300.25" y="168.90" width="22.50" height="11.25" fill="#a3dcf6"/>
<rect x="322.75" y="168.90" width="22.50" height="11.25" fill="#f0f8fd"/>
<rect x="345.25" y="168.90" width="11.25" height="11.25" fill="#fff9e4"/>
<rect x="120.25" y="180.15" width="22.50" height="11.25" fill="#f0f8fd"/>
<rect x="142.75" y="180.15" width="22.50" height="11.25" fill="#fff9e4"/>
<rect x="165.25" y="180.15" width="11.25" height="11.25" fill="#a3dcf6"/>
<rect x="176.50" y="180.15" width="11.25" height="11.25" fill="#f0f8fd"/>
<rect x="187.75" y="180.15" width="11.25" height="11.25" fill="#a3dcf6"/>
<rect x="199.00" y="180.15" width="11.25" height="11.25" fill="#f0f8fd"/>
<rect x="210.25" y="180.15" width="11.25" height="11.25" fill="#3f81c3"/>
<rect x="221.50" y="180.15" width="22.50" height="11.25" fill="#a3dcf6"/>
<rect x="244.00" y="180.15" width="11.25" height="11.25" fill="#f0f8fd"/>
<rect x="255.25" y="180.15" width="22.50" height="11.25" fill="#a3dcf6"/>
<rect x="277.75" y="180.15" width="11.25" height="11.25" fill="#3f81c3"/>
<rect x="289.00" y="180.15" width="22.50" height="11.25" fill="#a3dcf6"/>
<rect x="311.50" y="180.15" width="11.25" height="11.25" fill="#3f81c3"/>
<rect x="322.75" y="180.15" width="22.50" height="11.25" fill="#a3dcf6"/>
<rect x="345.25" y="180.15" width="11.25" height="11.25" fill="#f0f8fd"/>
<rect x="120.25" y="191.40" width="11.25" height="11.25" fill="#fff9e4"/>
<rect x="131.50" y="191.40" width="11.25" height="11.25" fill="#f0f8fd"/>
<rect x="142.75" y="191.40" width="22.50" height="11.25" fill="#fff9e4"/>
<rect x="165.25" y="191.40" width="33.75" height="11.25" fill="#a3dcf6"/>
<rect x="199.00" y="191.40" width="11.25" height="11.25" fill="#f0f8fd"/>
<rect x="210.25" y="191.40" width="22.50" height="11.25" fill="#3f81c3"/>
<rect x="232.75" y="191.40" width="11.25" height="11.25" fill="#a3dcf6"/>
<rect x="244.00" y="191.40" width="22.50" height="11.25" fill="#3f81c3"/>
<rect x="266.50" y="191.40" width="11.25" height="11.25" fill="#a3dcf6"/>
<rect x="277.75" y="191.40" width="11.25" height="11.25" fill="#3f81c3"/>
<rect x="289.00" y="191.40" width="11.25" height="11.25" fill="#a3dcf6"/>
<rect x="300.25" y="191.40" width="22.50" height="11.25" fill="#3f81c3"/>
<rect x="322.75" y="191.40" width="22.50" height="11.25" fill="#a3dcf6"/>
<rect x="345.25" y="191.40" width="11.25" height="11.25" fill="#f0f8fd"/>
<rect x="109.00" y="202.65" width="11.25" height="11.25" fill="#fff9e4"/>
<rect x="120.25" y="202.65" width="22.50" height="11.25" fill="#a3dcf6"/>
<rect x="142.75" y="202.65" width="22.50" height="11.25" fill="#f0f8fd"/>
<rect x="165.25" y="202.65" width="22.50" height="11.25" fill="#3f81c3"/>
<rect x="187.75" y="202.65" width="22.50" height="11.25" fill="#f0f8fd"/>
<rect x="210.25" y="202.65" width="33.75" height="11.25" fill="#3f81c3"/>
<rect x="244.00" y="202.65" width="11.25" height="11.25" fill="#a3dcf6"/>
<rect x="255.25" y="202.65" width="11.25" height="11.25" fill="#f0f8fd"/>
<rect x="266.50" y="202.65" width="56.25" height="11.25" fill="#a3dcf6"/>
<rect x="322.75" y="202.65" width="11.25" height="11.25" fill="#f0f8fd"/>
<rect x="334.00" y="202.65" width="11.25" height="11.25" fill="#a3dcf6"/>
<rect x="109.00" y="213.90" width="11.25" height="11.25" fill="#fff9e4"/>
<rect x="120.25" y="213.90" width="22.50" height="11.25" fill="#a3dcf6"/>
<rect x="142.75" y="213.90" width="11.25" height="11.25" fill="#3f81c3"/>
<rect x="154.00" y="213.90" width="22.50" height="11.25" fill="#a3dcf6"/>
<rect x="176.50" y="213.90" width="33.75" height="11.25" fill="#f0f8fd"/>
<rect x="210.25" y="213.90" width="22.50" height="11.25" fill="#a3dcf6"/>
<rect x="232.75" y="213.90" width="11.25" height="11.25" fill="#3f81c3"/>
<rect x="244.00" y="213.90" width="67.50" height="11.25" fill="#a3dcf6"/>
<rect x="97.75" y="225.15" width="11.25" height="11.25" fill="#fff9e4"/>
<rect x="109.00" y="225.15" width="11.25" height="11.25" fill="#fdb942"/>
<rect x="120.25" y="225.15" width="11.25" height="11.25" fill="#f0f8fd"/>
<rect x="131.50" y="225.15" width="33.75" height="11.25" fill="#a3dcf6"/>
<rect x="165.25" y="225.15" width="22.50" height="11.25" fill="#f0f8fd"/>
<rect x="187.75" y="225.15" width="11.25" height="11.25" fill="#fdb942"/>
<rect x="199.00" y="225.15" width="11.25" height="11.25" fill="#f0f8fd"/>
<rect x="210.25" y="225.15" width="11.25" height="11.25" fill="#a3dcf6"/>
<rect x="221.50" y="225.15" width="11.25" height="11.25" fill="#f0f8fd"/>
<rect x="232.75" y="225.15" width="33.75" height="11.25" fill="#3f81c3"/>
<rect x="266.50" y="225.15" width="11.25" height="11.25" fill="#a3dcf6"/>
<rect x="277.75" y="225.15" width="11.25" height="11.25" fill="#f0f8fd"/>
<rect x="97.75" y="236.40" width="11.25" height="11.25" fill="#f0f8fd"/>
<rect x="109.00" y="236.40" width="11.25" height="11.25" fill="#fff9e4"/>
<rect x="120.25" y="236.40" width="45.00" height="11.25" fill="#f0f8fd"/>
<rect x="165.25" y="236.40" width="11.25" height="11.25" fill="#fdb942"/>
<rect x="176.50" y="236.40" width="22.50" height="11.25" fill="#fff9e4"/>
<rect x="199.00" y="236.40" width="11.25" height="11.25" fill="#f0f8fd"/>
<rect x="210.25" y="236.40" width="33.75" height="11.25" fill="#a3dcf6"/>
<rect x="244.00" y="236.40" width="11.25" height="11.25" fill="#f0f8fd"/>
<rect x="255.25" y="236.40" width="11.25" height="11.25" fill="#a3dcf6"/>
<rect x="86.50" y="247.65" width="11.25" height="11.25" fill="#f0f8fd"/>
<rect x="97.75" y="247.65" width="11.25" height="11.25" fill="#fff9e4"/>
<rect x="109.00" y="247.65" width="11.25" height="11.25" fill="#fdb942"/>
<rect x="120.25" y="247.65" width="22.50" height="11.25" fill="#fff9e4"/>
<rect x="142.75" y="247.65" width="22.50" height="11.25" fill="#a3dcf6"/>
<rect x="165.25" y="247.65" width="11.25" height="11.25" fill="#fdb942"/>
<rect x="176.50" y="247.65" width="11.25" height="11.25" fill="#fff9e4"/>
<rect x="187.75" y="247.65" width="22.50" height="11.25" fill="#f0f8fd"/>
<rect x="210.25" y="247.65" width="11.25" height="11.25" fill="#a3dcf6"/>
<rect x="221.50" y="247.65" width="11.25" height="11.25" fill="#3f81c3"/>
<rect x="232.75" y="247.65" width="22.50" height="11.25" fill="#f0f8fd"/>
<rect x="86.50" y="258.90" width="11.25" height="11.25" fill="#f0f8fd"/>
<rect x="97.75" y="258.90" width="22.50" height="11.25" fill="#fff9e4"/>
<rect x="120.25" y="258.90" width="11.25" height="11.25" fill="#f0f8fd"/>
<rect x="131.50" y="258.90" width="22.50" height="11.25" fill="#a3dcf6"/>
<rect x="154.00" y="258.90" width="11.25" height="11.25" fill="#f0f8fd"/>
<rect x="165.25" y="258.90" width="22.50" height="11.25" fill="#a3dcf6"/>
<rect x="187.75" y="258.90" width="11.25" height="11.25" fill="#f0f8fd"/>
<rect x="199.00" y="258.90" width="11.25" height="11.25" fill="#a3dcf6"/>
<rect x="210.25" y="258.90" width="22.50" height="11.25" fill="#3f81c3"/>
<rect x="232.75" y="258.90" width="11.25" height="11.25" fill="#fff9e4"/>
<rect x="75.25" y="270.15" width="11.25" height="11.25" fill="#f0f8fd"/>
<rect x="86.50" y="270.15" width="11.25" height="11.25" fill="#fdb942"/>
<rect x="97.75" y="270.15" width="22.50" height="11.25" fill="#f0f8fd"/>
<rect x="120.25" y="270.15" width="11.25" height="11.25" fill="#fff9e4"/>
<rect x="131.50" y="270.15" width="22.50" height="11.25" fill="#f0f8fd"/>
<rect x="154.00" y="270.15" width="11.25" height="11.25" fill="#fff9e4"/>
<rect x="165.25" y="270.15" width="11.25" height="11.25" fill="#f0f8fd"/>
<rect x="176.50" y="270.15" width="22.50" height="11.25" fill="#3f81c3"/>
<rect x="199.00" y="270.15" width="11.25" height="11.25" fill="#a3dcf6"/>
<rect x="210.25" y="270.15" width="11.25" height="11.25" fill="#f0f8fd"/>
<rect x="221.50" y="270.15" width="11.25" height="11.25" fill="#a3dcf6"/>
<rect x="232.75" y="270.15" width="11.25" height="11.25" fill="#f0f8fd"/>
<rect x="244.00" y="270.15" width="11.25" height="11.25" fill="#fff9e4"/>
<rect x="75.25" y="281.40" width="11.25" height="11.25" fill="#f0f8fd"/>
<rect x="86.50" y="281.40" width="11.25" height="11.25" fill="#fdb942"/>
<rect x="97.75" y="281.40" width="11.25" height="11.25" fill="#a3dcf6"/>
<rect x="109.00" y="281.40" width="22.50" height="11.25" fill="#f0f8fd"/>
<rect x="131.50" y="281.40" width="33.75" height="11.25" fill="#a3dcf6"/>
<rect x="165.25" y="281.40" width="11.25" height="11.25" fill="#fff9e4"/>
<rect x="176.50" y="281.40" width="11.25" height="11.25" fill="#f0f8fd"/>
<rect x="187.75" y="281.40" width="11.25" height="11.25" fill="#3f81c3"/>
<rect x="199.00" y="281.40" width="11.25" height="11.25" fill="#a3dcf6"/>
<rect x="210.25" y="281.40" width="11.25" height="11.25" fill="#f0f8fd"/>
<rect x="221.50" y="281.40" width="11.25" height="11.25" fill="#a3dcf6"/>
<rect x="232.75" y="281.40" width="11.25" height="11.25" fill="#f0f8fd"/>
<rect x="244.00" y="281.40" width="11.25" height="11.25" fill="#fff9e4"/>
<rect x="64.00" y="292.65" width="11.25" height="11.25" fill="#f0f8fd"/>
<rect x="75.25" y="292.65" width="22.50" height="11.25" fill="#fff9e4"/>
<rect x="97.75" y="292.65" width="22.50" height="11.25" fill="#f0f8fd"/>
<rect x="120.25" y="292.65" width="11.25" height="11.25" fill="#a3dcf6"/>
<rect x="131.50" y="292.65" width="33.75" height="11.25" fill="#f0f8fd"/>
<rect x="165.25" y="292.65" width="22.50" height="11.25" fill="#a3dcf6"/>
<rect x="187.75" y="292.65" width="11.25" height="11.25" fill="#f0f8fd"/>
<rect x="199.00" y="292.65" width="22.50" height="11.25" fill="#fff9e4"/>
<rect x="221.50" y="292.65" width="11.25" height="11.25" fill="#f0f8fd"/>
<rect x="232.75" y="292.65" width="11.25" height="11.25" fill="#a3dcf6"/>
<rect x="244.00" y="292.65" width="11.25" height="11.25" fill="#f0f8fd"/>
<rect x="64.00" y="303.90" width="33.75" height="11.25" fill="#f0f8fd"/>
<rect x="97.75" y="303.90" width="22.50" height="11.25" fill="#a3dcf6"/>
<rect x="120.25" y="303.90" width="11.25" height="11.25" fill="#f0f8fd"/>
<rect x="131.50" y="303.90" width="11.25" height="11.25" fill="#a3dcf6"/>
<rect x="142.75" y="303.90" width="22.50" height="11.25" fill="#f0f8fd"/>
<rect x="165.25" y="303.90" width="11.25" height="11.25" fill="#a3dcf6"/>
<rect x="176.50" y="303.90" width="22.50" height="11.25" fill="#fdb942"/>
<rect x="199.00" y="303.90" width="45.00" height="11.25" fill="#f0f8fd"/>
<rect x="244.00" y="303.90" width="22.50" height="11.25" fill="#a3dcf6"/>
<rect x="64.00" y="315.15" width="22.50" height="11.25" fill="#f0f8fd"/>
<rect x="86.50" y="315.15" width="11.25" height="11.25" fill="#a3dcf6"/>
<rect x="97.75" y="315.15" width="11.25" height="11.25" fill="#f0f8fd"/>
<rect x="109.00" y="315.15" width="22.50" height="11.25" fill="#a3dcf6"/>
<rect x="131.50" y="315.15" width="22.50" height="11.25" fill="#f0f8fd"/>
<rect x="154.00" y="315.15" width="11.25" height="11.25" fill="#fff9e4"/>
<rect x="165.25" y="315.15" width="11.25" height="11.25" fill="#e84a2a"/>
<rect x="176.50" y="315.15" width="11.25" height="11.25" fill="#fdb942"/>
<rect x="187.75" y="315.15" width="33.75" height="11.25" fill="#fff9e4"/>
<rect x="221.50" y="315.15" width="11.25" height="11.25" fill="#fdb942"/>
<rect x="52.75" y="326.40" width="11.25" height="11.25" fill="#f0f8fd"/>
<rect x="64.00" y="326.40" width="22.50" height="11.25" fill="#a3dcf6"/>
<rect x="86.50" y="326.40" width="11.25" height="11.25" fill="#f0f8fd"/>
<rect x="97.75" y="326.40" width="11.25" height="11.25" fill="#a3dcf6"/>
<rect x="109.00" y="326.40" width="11.25" height="11.25" fill="#fff9e4"/>
<rect x="120.25" y="326.40" width="11.25" height="11.25" fill="#a3dcf6"/>
<rect x="131.50" y="326.40" width="33.75" height="11.25" fill="#f0f8fd"/>
<rect x="165.25" y="326.40" width="11.25" height="11.25" fill="#fdb942"/>
<rect x="176.50" y="326.40" width="11.25" height="11.25" fill="#f0f8fd"/>
<rect x="41.50" y="337.65" width="11.25" height="11.25" fill="#f0f8fd"/>
<rect x="52.75" y="337.65" width="11.25" height="11.25" fill="#fdb942"/>
<rect x="64.00" y="337.65" width="11.25" height="11.25" fill="#a3dcf6"/>
<rect x="75.25" y="337.65" width="11.25" height="11.25" fill="#f0f8fd"/>
<rect x="86.50" y="337.65" width="22.50" height="11.25" fill="#a3dcf6"/>
<rect x="109.00" y="337.65" width="11.25" height="11.25" fill="#fdb942"/>
<rect x="120.25" y="337.65" width="22.50" height="11.25" fill="#a3dcf6"/>
<rect x="142.75" y="337.65" width="33.75" height="11.25" fill="#f0f8fd"/>
<rect x="41.50" y="348.90" width="11.25" height="11.25" fill="#f0f8fd"/>
<rect x="52.75" y="348.90" width="11.25" height="11.25" fill="#fff9e4"/>
<rect x="64.00" y="348.90" width="11.25" height="11.25" fill="#a3dcf6"/>
<rect x="75.25" y="348.90" width="11.25" height="11.25" fill="#fdb942"/>
<rect x="86.50" y="348.90" width="11.25" height="11.25" fill="#a3dcf6"/>
<rect x="97.75" y="348.90" width="22.50" height="11.25" fill="#fdb942"/>
<rect x="120.25" y="348.90" width="11.25" height="11.25" fill="#f0f8fd"/>
<rect x="131.50" y="348.90" width="33.75" height="11.25" fill="#a3dcf6"/>
<rect x="165.25" y="348.90" width="11.25" height="11.25" fill="#fff9e4"/>
<rect x="176.50" y="348.90" width="11.25" height="11.25" fill="#f0f8fd"/>
<rect x="52.75" y="360.15" width="11.25" height="11.25" fill="#a3dcf6"/>
<rect x="64.00" y="360.15" width="11.25" height="11.25" fill="#f0f8fd"/>
<rect x="75.25" y="360.15" width="45.00" height="11.25" fill="#a3dcf6"/>
<rect x="120.25" y="360.15" width="11.25" height="11.25" fill="#f0f8fd"/>
<rect x="131.50" y="360.15" width="11.25" height="11.25" fill="#a3dcf6"/>
<rect x="142.75" y="360.15" width="33.75" height="11.25" fill="#f0f8fd"/>
<rect x="176.50" y="360.15" width="11.25" height="11.25" fill="#fff9e4"/>
<rect x="52.75" y="371.40" width="22.50" height="11.25" fill="#f0f8fd"/>
<rect x="75.25" y="371.40" width="33.75" height="11.25" fill="#a3dcf6"/>
<rect x="109.00" y="371.40" width="22.50" height="11.25" fill="#f0f8fd"/>
<rect x="131.50" y="371.40" width="11.25" height="11.25" fill="#a3dcf6"/>
<rect x="142.75" y="371.40" width="56.25" height="11.25" fill="#f0f8fd"/>
<rect x="52.75" y="382.65" width="56.25" height="11.25" fill="#a3dcf6"/>
<rect x="109.00" y="382.65" width="11.25" height="11.25" fill="#f0f8fd"/>
<rect x="120.25" y="382.65" width="22.50" height="11.25" fill="#fff9e4"/>
<rect x="142.75" y="382.65" width="11.25" height="11.25" fill="#f0f8fd"/>
<rect x="154.00" y="382.65" width="22.50" height="11.25" fill="#a3dcf6"/>
<rect x="176.50" y="382.65" width="22.50" height="11.25" fill="#f0f8fd"/>
<rect x="64.00" y="393.90" width="45.00" height="11.25" fill="#a3dcf6"/>
<rect x="109.00" y="393.90" width="11.25" height="11.25" fill="#f0f8fd"/>
<rect x="120.25" y="393.90" width="33.75" height="11.25" fill="#fff9e4"/>
<rect x="154.00" y="393.90" width="11.25" height="11.25" fill="#f0f8fd"/>
<rect x="165.25" y="393.90" width="22.50" height="11.25" fill="#a3dcf6"/>
<rect x="64.00" y="405.15" width="56.25" height="11.25" fill="#a3dcf6"/>
<rect x="120.25" y="405.15" width="11.25" height="11.25" fill="#fff9e4"/>
<rect x="131.50" y="405.15" width="22.50" height="11.25" fill="#f0f8fd"/>
<rect x="64.00" y="416.40" width="22.50" height="11.25" fill="#a3dcf6"/>
<rect x="86.50" y="416.40" width="11.25" height="11.25" fill="#f0f8fd"/>
<rect x="97.75" y="416.40" width="22.50" height="11.25" fill="#a3dcf6"/>
<rect x="120.25" y="416.40" width="22.50" height="11.25" fill="#f0f8fd"/>
<rect x="75.25" y="427.65" width="11.25" height="11.25" fill="#fff9e4"/>
<rect x="86.50" y="427.65" width="33.75" height="11.25" fill="#a3dcf6"/>
<rect x="120.25" y="427.65" width="11.25" height="11.25" fill="#f0f8fd"/></g>
<use href="#map"/>
<text transform="translate(284.0,186.6) rotate(-75)" font-size="9" font-style="italic" text-anchor="middle" dy="3.1">2</text>
<rect x="37.5" y="72.5" width="373.0" height="371.0" fill="none" stroke="#000" stroke-width="1"/>
<path d="M75.5,72.5 v-12.5 M75.5,443.5 v12.5 M300.5,72.5 v-12.5 M300.5,443.5 v12.5 M37.5,405.4 h-12.5 M410.5,405.4 h12.5 M37.5,180.4 h-12.5 M410.5,180.4 h12.5" stroke="#000" stroke-width="1" fill="none"/>
<path d="M120.5,72.5 v-6 M120.5,443.5 v6 M165.5,72.5 v-6 M165.5,443.5 v6 M210.5,72.5 v-6 M210.5,443.5 v6 M255.5,72.5 v-6 M255.5,443.5 v6 M345.5,72.5 v-6 M345.5,443.5 v6 M390.5,72.5 v-6 M390.5,443.5 v6 M37.5,360.4 h-6 M410.5,360.4 h6 M37.5,315.4 h-6 M410.5,315.4 h6 M37.5,270.4 h-6 M410.5,270.4 h6 M37.5,225.4 h-6 M410.5,225.4 h6 M37.5,135.4 h-6 M410.5,135.4 h6 M37.5,90.4 h-6 M410.5,90.4 h6" stroke="#222" stroke-width="0.75" fill="none"/>
<text x="75.5" y="470.4" font-size="10.2" text-anchor="middle">35E</text>
<text x="300.5" y="470.4" font-size="10.2" text-anchor="middle">40E</text>
<text x="18.3" y="408.9" font-size="10.2" text-anchor="end">30N</text>
<text x="18.3" y="183.9" font-size="10.2" text-anchor="end">35N</text>
<text x="37.2" y="53.7" font-size="12.5">TRMM 3B42RT</text>
<text x="410.8" y="53.7" font-size="12.5" text-anchor="end">run=48</text>
</g>
<rect x="22.20" y="929.5" width="101.25" height="28" fill="#8f1319" stroke="#222" stroke-width="0.6"/>
<rect x="123.45" y="929.5" width="101.25" height="28" fill="#e84a2a" stroke="#222" stroke-width="0.6"/>
<rect x="224.70" y="929.5" width="101.25" height="28" fill="#fdb942" stroke="#222" stroke-width="0.6"/>
<rect x="325.95" y="929.5" width="101.25" height="28" fill="#fff9e4" stroke="#222" stroke-width="0.6"/>
<rect x="427.20" y="929.5" width="101.25" height="28" fill="#f0f8fd" stroke="#222" stroke-width="0.6"/>
<rect x="528.45" y="929.5" width="101.25" height="28" fill="#a3dcf6" stroke="#222" stroke-width="0.6"/>
<rect x="629.70" y="929.5" width="101.25" height="28" fill="#3f81c3" stroke="#222" stroke-width="0.6"/>
<rect x="730.95" y="929.5" width="101.25" height="28" fill="#1c2a60" stroke="#222" stroke-width="0.6"/>
<text x="123.5" y="973.7" font-size="10.2" text-anchor="middle">-3</text>
<text x="224.7" y="973.7" font-size="10.2" text-anchor="middle">-2</text>
<text x="325.9" y="973.7" font-size="10.2" text-anchor="middle">-1</text>
<text x="427.2" y="973.7" font-size="10.2" text-anchor="middle">0</text>
<text x="528.5" y="973.7" font-size="10.2" text-anchor="middle">1</text>
<text x="629.7" y="973.7" font-size="10.2" text-anchor="middle">2</text>
<text x="731.0" y="973.7" font-size="10.2" text-anchor="middle">3</text>
</svg></body></html>
